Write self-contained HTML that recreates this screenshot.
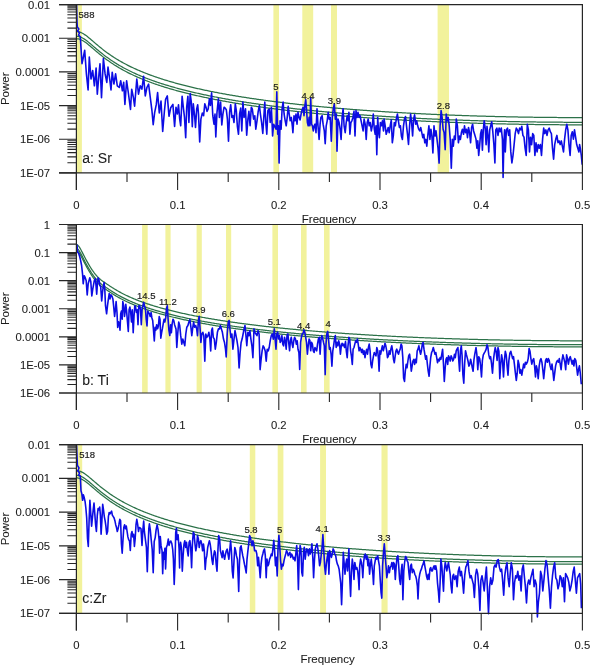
<!DOCTYPE html><html><head><meta charset="utf-8"><style>html,body{margin:0;padding:0;background:#fff;}svg{display:block;will-change:transform;}text{font-family:"Liberation Sans",sans-serif;fill:#1c1c1c;stroke:#1c1c1c;stroke-width:0.08px;}</style></head><body>
<svg width="590" height="665" viewBox="0 0 590 665">
<rect x="76.60" y="4.60" width="5.30" height="168.30" fill="#f2f29c"/>
<rect x="273.40" y="4.60" width="5.60" height="168.30" fill="#f2f29c"/>
<rect x="302.30" y="4.60" width="10.90" height="168.30" fill="#f2f29c"/>
<rect x="331.00" y="4.60" width="6.00" height="168.30" fill="#f2f29c"/>
<rect x="437.60" y="4.60" width="11.40" height="168.30" fill="#f2f29c"/>
<polyline points="76.4,31.50 77.4,31.55 78.4,31.70 79.4,31.95 80.4,32.29 81.4,32.72 82.4,33.22 83.4,33.79 84.4,34.43 85.4,35.12 86.4,35.85 87.4,36.62 88.4,37.42 89.4,38.24 90.4,39.08 91.4,39.93 92.4,40.79 93.4,41.65 94.4,42.50 95.4,43.36 96.4,44.21 97.4,45.06 98.4,45.89 99.4,46.72 100.4,47.53 101.4,48.34 102.4,49.13 103.4,49.91 104.4,50.68 105.4,51.43 106.4,52.17 107.4,52.90 108.4,53.62 109.4,54.32 110.4,55.01 111.4,55.69 112.4,56.36 113.4,57.02 114.4,57.66 115.4,58.29 116.4,58.91 117.4,59.52 118.4,60.12 119.4,60.71 120.4,61.29 121.4,61.86 122.4,62.42 123.4,62.97 124.4,63.51 125.4,64.05 126.4,64.57 127.4,65.08 128.4,65.59 129.4,66.09 130.4,66.58 131.4,67.07 132.4,67.54 133.4,68.01 134.4,68.47 135.4,68.93 136.4,69.38 137.4,69.82 138.4,70.26 139.4,70.69 140.4,71.11 141.4,71.53 142.4,71.94 143.4,72.35 144.4,72.75 145.4,73.14 146.4,73.53 147.4,73.92 148.4,74.30 149.4,74.68 150.4,75.05 151.4,75.41 152.4,75.77 153.4,76.13 154.4,76.48 155.4,76.83 156.4,77.18 157.4,77.52 158.4,77.85 159.4,78.18 160.4,78.51 161.4,78.84 162.4,79.16 163.4,79.48 164.4,79.79 165.4,80.10 166.4,80.41 167.4,80.71 168.4,81.01 169.4,81.31 170.4,81.60 171.4,81.89 172.4,82.18 173.4,82.47 174.4,82.75 175.4,83.03 176.4,83.30 177.4,83.58 178.4,83.85 179.4,84.11 180.4,84.38 181.4,84.64 182.4,84.90 183.4,85.16 184.4,85.42 185.4,85.67 186.4,85.92 187.4,86.17 188.4,86.41 189.4,86.66 190.4,86.90 191.4,87.14 192.4,87.37 193.4,87.61 194.4,87.84 195.4,88.07 196.4,88.30 197.4,88.53 198.4,88.75 199.4,88.97 200.4,89.19 201.4,89.41 202.4,89.63 203.4,89.84 204.4,90.06 205.4,90.27 206.4,90.48 207.4,90.69 208.4,90.89 209.4,91.10 210.4,91.30 211.4,91.50 212.4,91.70 213.4,91.90 214.4,92.09 215.4,92.29 216.4,92.48 217.4,92.67 218.4,92.86 219.4,93.05 220.4,93.24 221.4,93.43 222.4,93.61 223.4,93.79 224.4,93.98 225.4,94.16 226.4,94.33 227.4,94.51 228.4,94.69 229.4,94.86 230.4,95.04 231.4,95.21 232.4,95.38 233.4,95.55 234.4,95.72 235.4,95.89 236.4,96.05 237.4,96.22 238.4,96.38 239.4,96.54 240.4,96.70 241.4,96.86 242.4,97.02 243.4,97.18 244.4,97.34 245.4,97.49 246.4,97.65 247.4,97.80 248.4,97.95 249.4,98.10 250.4,98.26 251.4,98.40 252.4,98.55 253.4,98.70 254.4,98.85 255.4,98.99 256.4,99.14 257.4,99.28 258.4,99.42 259.4,99.56 260.4,99.70 261.4,99.84 262.4,99.98 263.4,100.12 264.4,100.25 265.4,100.39 266.4,100.53 267.4,100.66 268.4,100.79 269.4,100.92 270.4,101.06 271.4,101.19 272.4,101.32 273.4,101.44 274.4,101.57 275.4,101.70 276.4,101.83 277.4,101.95 278.4,102.08 279.4,102.20 280.4,102.32 281.4,102.45 282.4,102.57 283.4,102.69 284.4,102.81 285.4,102.93 286.4,103.05 287.4,103.16 288.4,103.28 289.4,103.40 290.4,103.51 291.4,103.63 292.4,103.74 293.4,103.85 294.4,103.97 295.4,104.08 296.4,104.19 297.4,104.30 298.4,104.41 299.4,104.52 300.4,104.63 301.4,104.73 302.4,104.84 303.4,104.95 304.4,105.05 305.4,105.16 306.4,105.26 307.4,105.37 308.4,105.47 309.4,105.57 310.4,105.67 311.4,105.78 312.4,105.88 313.4,105.98 314.4,106.07 315.4,106.17 316.4,106.27 317.4,106.37 318.4,106.47 319.4,106.56 320.4,106.66 321.4,106.75 322.4,106.85 323.4,106.94 324.4,107.04 325.4,107.13 326.4,107.22 327.4,107.31 328.4,107.40 329.4,107.49 330.4,107.58 331.4,107.67 332.4,107.76 333.4,107.85 334.4,107.94 335.4,108.03 336.4,108.11 337.4,108.20 338.4,108.28 339.4,108.37 340.4,108.45 341.4,108.54 342.4,108.62 343.4,108.70 344.4,108.79 345.4,108.87 346.4,108.95 347.4,109.03 348.4,109.11 349.4,109.19 350.4,109.27 351.4,109.35 352.4,109.43 353.4,109.51 354.4,109.58 355.4,109.66 356.4,109.74 357.4,109.81 358.4,109.89 359.4,109.96 360.4,110.04 361.4,110.11 362.4,110.19 363.4,110.26 364.4,110.33 365.4,110.41 366.4,110.48 367.4,110.55 368.4,110.62 369.4,110.69 370.4,110.76 371.4,110.83 372.4,110.90 373.4,110.97 374.4,111.04 375.4,111.10 376.4,111.17 377.4,111.24 378.4,111.31 379.4,111.37 380.4,111.44 381.4,111.50 382.4,111.57 383.4,111.63 384.4,111.70 385.4,111.76 386.4,111.82 387.4,111.89 388.4,111.95 389.4,112.01 390.4,112.07 391.4,112.13 392.4,112.19 393.4,112.25 394.4,112.31 395.4,112.37 396.4,112.43 397.4,112.49 398.4,112.55 399.4,112.61 400.4,112.66 401.4,112.72 402.4,112.78 403.4,112.83 404.4,112.89 405.4,112.95 406.4,113.00 407.4,113.06 408.4,113.11 409.4,113.16 410.4,113.22 411.4,113.27 412.4,113.32 413.4,113.38 414.4,113.43 415.4,113.48 416.4,113.53 417.4,113.58 418.4,113.63 419.4,113.68 420.4,113.73 421.4,113.78 422.4,113.83 423.4,113.88 424.4,113.93 425.4,113.98 426.4,114.03 427.4,114.07 428.4,114.12 429.4,114.17 430.4,114.21 431.4,114.26 432.4,114.30 433.4,114.35 434.4,114.39 435.4,114.44 436.4,114.48 437.4,114.53 438.4,114.57 439.4,114.61 440.4,114.66 441.4,114.70 442.4,114.74 443.4,114.78 444.4,114.82 445.4,114.87 446.4,114.91 447.4,114.95 448.4,114.99 449.4,115.03 450.4,115.07 451.4,115.11 452.4,115.14 453.4,115.18 454.4,115.22 455.4,115.26 456.4,115.30 457.4,115.33 458.4,115.37 459.4,115.41 460.4,115.44 461.4,115.48 462.4,115.51 463.4,115.55 464.4,115.58 465.4,115.62 466.4,115.65 467.4,115.69 468.4,115.72 469.4,115.75 470.4,115.79 471.4,115.82 472.4,115.85 473.4,115.88 474.4,115.92 475.4,115.95 476.4,115.98 477.4,116.01 478.4,116.04 479.4,116.07 480.4,116.10 481.4,116.13 482.4,116.16 483.4,116.19 484.4,116.22 485.4,116.24 486.4,116.27 487.4,116.30 488.4,116.33 489.4,116.35 490.4,116.38 491.4,116.41 492.4,116.43 493.4,116.46 494.4,116.48 495.4,116.51 496.4,116.53 497.4,116.56 498.4,116.58 499.4,116.61 500.4,116.63 501.4,116.65 502.4,116.68 503.4,116.70 504.4,116.72 505.4,116.74 506.4,116.77 507.4,116.79 508.4,116.81 509.4,116.83 510.4,116.85 511.4,116.87 512.4,116.89 513.4,116.91 514.4,116.93 515.4,116.95 516.4,116.97 517.4,116.99 518.4,117.01 519.4,117.02 520.4,117.04 521.4,117.06 522.4,117.08 523.4,117.09 524.4,117.11 525.4,117.13 526.4,117.14 527.4,117.16 528.4,117.17 529.4,117.19 530.4,117.20 531.4,117.22 532.4,117.23 533.4,117.25 534.4,117.26 535.4,117.27 536.4,117.29 537.4,117.30 538.4,117.31 539.4,117.33 540.4,117.34 541.4,117.35 542.4,117.36 543.4,117.37 544.4,117.38 545.4,117.39 546.4,117.40 547.4,117.41 548.4,117.42 549.4,117.43 550.4,117.44 551.4,117.45 552.4,117.46 553.4,117.47 554.4,117.48 555.4,117.48 556.4,117.49 557.4,117.50 558.4,117.50 559.4,117.51 560.4,117.52 561.4,117.52 562.4,117.53 563.4,117.53 564.4,117.54 565.4,117.55 566.4,117.55 567.4,117.55 568.4,117.56 569.4,117.56 570.4,117.57 571.4,117.57 572.4,117.57 573.4,117.57 574.4,117.58 575.4,117.58 576.4,117.58 577.4,117.58 578.4,117.58 579.4,117.58 580.4,117.59 581.4,117.59 582.4,117.59" fill="none" stroke="#2c7249" stroke-width="1.25"/>
<polyline points="76.4,36.21 77.4,36.26 78.4,36.41 79.4,36.66 80.4,37.00 81.4,37.43 82.4,37.93 83.4,38.51 84.4,39.14 85.4,39.83 86.4,40.56 87.4,41.33 88.4,42.13 89.4,42.95 90.4,43.79 91.4,44.64 92.4,45.50 93.4,46.36 94.4,47.22 95.4,48.07 96.4,48.92 97.4,49.77 98.4,50.60 99.4,51.43 100.4,52.25 101.4,53.05 102.4,53.84 103.4,54.62 104.4,55.39 105.4,56.14 106.4,56.89 107.4,57.62 108.4,58.33 109.4,59.04 110.4,59.73 111.4,60.41 112.4,61.07 113.4,61.73 114.4,62.37 115.4,63.00 116.4,63.63 117.4,64.24 118.4,64.84 119.4,65.42 120.4,66.00 121.4,66.57 122.4,67.13 123.4,67.68 124.4,68.23 125.4,68.76 126.4,69.28 127.4,69.80 128.4,70.30 129.4,70.80 130.4,71.29 131.4,71.78 132.4,72.26 133.4,72.72 134.4,73.19 135.4,73.64 136.4,74.09 137.4,74.53 138.4,74.97 139.4,75.40 140.4,75.82 141.4,76.24 142.4,76.65 143.4,77.06 144.4,77.46 145.4,77.86 146.4,78.25 147.4,78.63 148.4,79.01 149.4,79.39 150.4,79.76 151.4,80.12 152.4,80.49 153.4,80.84 154.4,81.20 155.4,81.54 156.4,81.89 157.4,82.23 158.4,82.57 159.4,82.90 160.4,83.23 161.4,83.55 162.4,83.87 163.4,84.19 164.4,84.50 165.4,84.81 166.4,85.12 167.4,85.42 168.4,85.72 169.4,86.02 170.4,86.31 171.4,86.61 172.4,86.89 173.4,87.18 174.4,87.46 175.4,87.74 176.4,88.01 177.4,88.29 178.4,88.56 179.4,88.83 180.4,89.09 181.4,89.35 182.4,89.61 183.4,89.87 184.4,90.13 185.4,90.38 186.4,90.63 187.4,90.88 188.4,91.12 189.4,91.37 190.4,91.61 191.4,91.85 192.4,92.09 193.4,92.32 194.4,92.55 195.4,92.78 196.4,93.01 197.4,93.24 198.4,93.46 199.4,93.68 200.4,93.91 201.4,94.12 202.4,94.34 203.4,94.56 204.4,94.77 205.4,94.98 206.4,95.19 207.4,95.40 208.4,95.60 209.4,95.81 210.4,96.01 211.4,96.21 212.4,96.41 213.4,96.61 214.4,96.81 215.4,97.00 216.4,97.20 217.4,97.39 218.4,97.58 219.4,97.77 220.4,97.95 221.4,98.14 222.4,98.32 223.4,98.51 224.4,98.69 225.4,98.87 226.4,99.05 227.4,99.22 228.4,99.40 229.4,99.58 230.4,99.75 231.4,99.92 232.4,100.09 233.4,100.26 234.4,100.43 235.4,100.60 236.4,100.76 237.4,100.93 238.4,101.09 239.4,101.25 240.4,101.42 241.4,101.58 242.4,101.74 243.4,101.89 244.4,102.05 245.4,102.21 246.4,102.36 247.4,102.51 248.4,102.67 249.4,102.82 250.4,102.97 251.4,103.12 252.4,103.27 253.4,103.41 254.4,103.56 255.4,103.70 256.4,103.85 257.4,103.99 258.4,104.13 259.4,104.27 260.4,104.42 261.4,104.55 262.4,104.69 263.4,104.83 264.4,104.97 265.4,105.10 266.4,105.24 267.4,105.37 268.4,105.50 269.4,105.64 270.4,105.77 271.4,105.90 272.4,106.03 273.4,106.16 274.4,106.29 275.4,106.41 276.4,106.54 277.4,106.66 278.4,106.79 279.4,106.91 280.4,107.04 281.4,107.16 282.4,107.28 283.4,107.40 284.4,107.52 285.4,107.64 286.4,107.76 287.4,107.88 288.4,107.99 289.4,108.11 290.4,108.22 291.4,108.34 292.4,108.45 293.4,108.57 294.4,108.68 295.4,108.79 296.4,108.90 297.4,109.01 298.4,109.12 299.4,109.23 300.4,109.34 301.4,109.45 302.4,109.55 303.4,109.66 304.4,109.77 305.4,109.87 306.4,109.98 307.4,110.08 308.4,110.18 309.4,110.28 310.4,110.39 311.4,110.49 312.4,110.59 313.4,110.69 314.4,110.79 315.4,110.89 316.4,110.98 317.4,111.08 318.4,111.18 319.4,111.27 320.4,111.37 321.4,111.47 322.4,111.56 323.4,111.65 324.4,111.75 325.4,111.84 326.4,111.93 327.4,112.02 328.4,112.12 329.4,112.21 330.4,112.30 331.4,112.39 332.4,112.47 333.4,112.56 334.4,112.65 335.4,112.74 336.4,112.82 337.4,112.91 338.4,113.00 339.4,113.08 340.4,113.17 341.4,113.25 342.4,113.33 343.4,113.42 344.4,113.50 345.4,113.58 346.4,113.66 347.4,113.74 348.4,113.82 349.4,113.90 350.4,113.98 351.4,114.06 352.4,114.14 353.4,114.22 354.4,114.30 355.4,114.37 356.4,114.45 357.4,114.53 358.4,114.60 359.4,114.68 360.4,114.75 361.4,114.83 362.4,114.90 363.4,114.97 364.4,115.05 365.4,115.12 366.4,115.19 367.4,115.26 368.4,115.33 369.4,115.40 370.4,115.47 371.4,115.54 372.4,115.61 373.4,115.68 374.4,115.75 375.4,115.82 376.4,115.88 377.4,115.95 378.4,116.02 379.4,116.08 380.4,116.15 381.4,116.21 382.4,116.28 383.4,116.34 384.4,116.41 385.4,116.47 386.4,116.53 387.4,116.60 388.4,116.66 389.4,116.72 390.4,116.78 391.4,116.84 392.4,116.91 393.4,116.97 394.4,117.03 395.4,117.08 396.4,117.14 397.4,117.20 398.4,117.26 399.4,117.32 400.4,117.38 401.4,117.43 402.4,117.49 403.4,117.55 404.4,117.60 405.4,117.66 406.4,117.71 407.4,117.77 408.4,117.82 409.4,117.88 410.4,117.93 411.4,117.98 412.4,118.04 413.4,118.09 414.4,118.14 415.4,118.19 416.4,118.24 417.4,118.30 418.4,118.35 419.4,118.40 420.4,118.45 421.4,118.50 422.4,118.54 423.4,118.59 424.4,118.64 425.4,118.69 426.4,118.74 427.4,118.79 428.4,118.83 429.4,118.88 430.4,118.93 431.4,118.97 432.4,119.02 433.4,119.06 434.4,119.11 435.4,119.15 436.4,119.20 437.4,119.24 438.4,119.28 439.4,119.33 440.4,119.37 441.4,119.41 442.4,119.45 443.4,119.50 444.4,119.54 445.4,119.58 446.4,119.62 447.4,119.66 448.4,119.70 449.4,119.74 450.4,119.78 451.4,119.82 452.4,119.86 453.4,119.90 454.4,119.93 455.4,119.97 456.4,120.01 457.4,120.05 458.4,120.08 459.4,120.12 460.4,120.16 461.4,120.19 462.4,120.23 463.4,120.26 464.4,120.30 465.4,120.33 466.4,120.37 467.4,120.40 468.4,120.43 469.4,120.47 470.4,120.50 471.4,120.53 472.4,120.56 473.4,120.60 474.4,120.63 475.4,120.66 476.4,120.69 477.4,120.72 478.4,120.75 479.4,120.78 480.4,120.81 481.4,120.84 482.4,120.87 483.4,120.90 484.4,120.93 485.4,120.96 486.4,120.98 487.4,121.01 488.4,121.04 489.4,121.07 490.4,121.09 491.4,121.12 492.4,121.15 493.4,121.17 494.4,121.20 495.4,121.22 496.4,121.25 497.4,121.27 498.4,121.30 499.4,121.32 500.4,121.34 501.4,121.37 502.4,121.39 503.4,121.41 504.4,121.43 505.4,121.46 506.4,121.48 507.4,121.50 508.4,121.52 509.4,121.54 510.4,121.56 511.4,121.58 512.4,121.60 513.4,121.62 514.4,121.64 515.4,121.66 516.4,121.68 517.4,121.70 518.4,121.72 519.4,121.74 520.4,121.75 521.4,121.77 522.4,121.79 523.4,121.81 524.4,121.82 525.4,121.84 526.4,121.86 527.4,121.87 528.4,121.89 529.4,121.90 530.4,121.92 531.4,121.93 532.4,121.95 533.4,121.96 534.4,121.97 535.4,121.99 536.4,122.00 537.4,122.01 538.4,122.03 539.4,122.04 540.4,122.05 541.4,122.06 542.4,122.07 543.4,122.08 544.4,122.09 545.4,122.11 546.4,122.12 547.4,122.13 548.4,122.14 549.4,122.14 550.4,122.15 551.4,122.16 552.4,122.17 553.4,122.18 554.4,122.19 555.4,122.20 556.4,122.20 557.4,122.21 558.4,122.22 559.4,122.22 560.4,122.23 561.4,122.24 562.4,122.24 563.4,122.25 564.4,122.25 565.4,122.26 566.4,122.26 567.4,122.27 568.4,122.27 569.4,122.27 570.4,122.28 571.4,122.28 572.4,122.28 573.4,122.29 574.4,122.29 575.4,122.29 576.4,122.29 577.4,122.29 578.4,122.30 579.4,122.30 580.4,122.30 581.4,122.30 582.4,122.30" fill="none" stroke="#2c7249" stroke-width="1.25"/>
<polyline points="76.4,38.74 77.4,38.79 78.4,38.94 79.4,39.19 80.4,39.53 81.4,39.95 82.4,40.46 83.4,41.03 84.4,41.67 85.4,42.36 86.4,43.09 87.4,43.86 88.4,44.66 89.4,45.48 90.4,46.32 91.4,47.17 92.4,48.02 93.4,48.88 94.4,49.74 95.4,50.60 96.4,51.45 97.4,52.29 98.4,53.13 99.4,53.96 100.4,54.77 101.4,55.57 102.4,56.37 103.4,57.15 104.4,57.91 105.4,58.67 106.4,59.41 107.4,60.14 108.4,60.86 109.4,61.56 110.4,62.25 111.4,62.93 112.4,63.60 113.4,64.25 114.4,64.90 115.4,65.53 116.4,66.15 117.4,66.76 118.4,67.36 119.4,67.95 120.4,68.53 121.4,69.10 122.4,69.66 123.4,70.21 124.4,70.75 125.4,71.28 126.4,71.81 127.4,72.32 128.4,72.83 129.4,73.33 130.4,73.82 131.4,74.30 132.4,74.78 133.4,75.25 134.4,75.71 135.4,76.17 136.4,76.62 137.4,77.06 138.4,77.49 139.4,77.92 140.4,78.35 141.4,78.77 142.4,79.18 143.4,79.58 144.4,79.99 145.4,80.38 146.4,80.77 147.4,81.16 148.4,81.54 149.4,81.91 150.4,82.28 151.4,82.65 152.4,83.01 153.4,83.37 154.4,83.72 155.4,84.07 156.4,84.41 157.4,84.75 158.4,85.09 159.4,85.42 160.4,85.75 161.4,86.07 162.4,86.40 163.4,86.71 164.4,87.03 165.4,87.34 166.4,87.64 167.4,87.95 168.4,88.25 169.4,88.54 170.4,88.84 171.4,89.13 172.4,89.42 173.4,89.70 174.4,89.98 175.4,90.26 176.4,90.54 177.4,90.81 178.4,91.08 179.4,91.35 180.4,91.62 181.4,91.88 182.4,92.14 183.4,92.40 184.4,92.65 185.4,92.90 186.4,93.16 187.4,93.40 188.4,93.65 189.4,93.89 190.4,94.13 191.4,94.37 192.4,94.61 193.4,94.84 194.4,95.08 195.4,95.31 196.4,95.54 197.4,95.76 198.4,95.99 199.4,96.21 200.4,96.43 201.4,96.65 202.4,96.87 203.4,97.08 204.4,97.29 205.4,97.51 206.4,97.72 207.4,97.92 208.4,98.13 209.4,98.33 210.4,98.54 211.4,98.74 212.4,98.94 213.4,99.14 214.4,99.33 215.4,99.53 216.4,99.72 217.4,99.91 218.4,100.10 219.4,100.29 220.4,100.48 221.4,100.66 222.4,100.85 223.4,101.03 224.4,101.21 225.4,101.39 226.4,101.57 227.4,101.75 228.4,101.93 229.4,102.10 230.4,102.27 231.4,102.45 232.4,102.62 233.4,102.79 234.4,102.96 235.4,103.12 236.4,103.29 237.4,103.45 238.4,103.62 239.4,103.78 240.4,103.94 241.4,104.10 242.4,104.26 243.4,104.42 244.4,104.57 245.4,104.73 246.4,104.88 247.4,105.04 248.4,105.19 249.4,105.34 250.4,105.49 251.4,105.64 252.4,105.79 253.4,105.94 254.4,106.08 255.4,106.23 256.4,106.37 257.4,106.52 258.4,106.66 259.4,106.80 260.4,106.94 261.4,107.08 262.4,107.22 263.4,107.36 264.4,107.49 265.4,107.63 266.4,107.76 267.4,107.90 268.4,108.03 269.4,108.16 270.4,108.29 271.4,108.42 272.4,108.55 273.4,108.68 274.4,108.81 275.4,108.94 276.4,109.06 277.4,109.19 278.4,109.31 279.4,109.44 280.4,109.56 281.4,109.68 282.4,109.80 283.4,109.92 284.4,110.04 285.4,110.16 286.4,110.28 287.4,110.40 288.4,110.52 289.4,110.63 290.4,110.75 291.4,110.86 292.4,110.98 293.4,111.09 294.4,111.20 295.4,111.31 296.4,111.43 297.4,111.54 298.4,111.65 299.4,111.75 300.4,111.86 301.4,111.97 302.4,112.08 303.4,112.18 304.4,112.29 305.4,112.40 306.4,112.50 307.4,112.60 308.4,112.71 309.4,112.81 310.4,112.91 311.4,113.01 312.4,113.11 313.4,113.21 314.4,113.31 315.4,113.41 316.4,113.51 317.4,113.61 318.4,113.70 319.4,113.80 320.4,113.90 321.4,113.99 322.4,114.08 323.4,114.18 324.4,114.27 325.4,114.36 326.4,114.46 327.4,114.55 328.4,114.64 329.4,114.73 330.4,114.82 331.4,114.91 332.4,115.00 333.4,115.09 334.4,115.17 335.4,115.26 336.4,115.35 337.4,115.43 338.4,115.52 339.4,115.61 340.4,115.69 341.4,115.77 342.4,115.86 343.4,115.94 344.4,116.02 345.4,116.11 346.4,116.19 347.4,116.27 348.4,116.35 349.4,116.43 350.4,116.51 351.4,116.59 352.4,116.67 353.4,116.74 354.4,116.82 355.4,116.90 356.4,116.97 357.4,117.05 358.4,117.13 359.4,117.20 360.4,117.28 361.4,117.35 362.4,117.42 363.4,117.50 364.4,117.57 365.4,117.64 366.4,117.71 367.4,117.79 368.4,117.86 369.4,117.93 370.4,118.00 371.4,118.07 372.4,118.14 373.4,118.20 374.4,118.27 375.4,118.34 376.4,118.41 377.4,118.48 378.4,118.54 379.4,118.61 380.4,118.67 381.4,118.74 382.4,118.80 383.4,118.87 384.4,118.93 385.4,119.00 386.4,119.06 387.4,119.12 388.4,119.18 389.4,119.25 390.4,119.31 391.4,119.37 392.4,119.43 393.4,119.49 394.4,119.55 395.4,119.61 396.4,119.67 397.4,119.73 398.4,119.79 399.4,119.84 400.4,119.90 401.4,119.96 402.4,120.01 403.4,120.07 404.4,120.13 405.4,120.18 406.4,120.24 407.4,120.29 408.4,120.35 409.4,120.40 410.4,120.45 411.4,120.51 412.4,120.56 413.4,120.61 414.4,120.67 415.4,120.72 416.4,120.77 417.4,120.82 418.4,120.87 419.4,120.92 420.4,120.97 421.4,121.02 422.4,121.07 423.4,121.12 424.4,121.17 425.4,121.21 426.4,121.26 427.4,121.31 428.4,121.36 429.4,121.40 430.4,121.45 431.4,121.50 432.4,121.54 433.4,121.59 434.4,121.63 435.4,121.68 436.4,121.72 437.4,121.76 438.4,121.81 439.4,121.85 440.4,121.89 441.4,121.94 442.4,121.98 443.4,122.02 444.4,122.06 445.4,122.10 446.4,122.14 447.4,122.18 448.4,122.22 449.4,122.26 450.4,122.30 451.4,122.34 452.4,122.38 453.4,122.42 454.4,122.46 455.4,122.50 456.4,122.53 457.4,122.57 458.4,122.61 459.4,122.64 460.4,122.68 461.4,122.72 462.4,122.75 463.4,122.79 464.4,122.82 465.4,122.86 466.4,122.89 467.4,122.92 468.4,122.96 469.4,122.99 470.4,123.02 471.4,123.06 472.4,123.09 473.4,123.12 474.4,123.15 475.4,123.18 476.4,123.22 477.4,123.25 478.4,123.28 479.4,123.31 480.4,123.34 481.4,123.37 482.4,123.39 483.4,123.42 484.4,123.45 485.4,123.48 486.4,123.51 487.4,123.54 488.4,123.56 489.4,123.59 490.4,123.62 491.4,123.64 492.4,123.67 493.4,123.70 494.4,123.72 495.4,123.75 496.4,123.77 497.4,123.80 498.4,123.82 499.4,123.84 500.4,123.87 501.4,123.89 502.4,123.91 503.4,123.94 504.4,123.96 505.4,123.98 506.4,124.00 507.4,124.03 508.4,124.05 509.4,124.07 510.4,124.09 511.4,124.11 512.4,124.13 513.4,124.15 514.4,124.17 515.4,124.19 516.4,124.21 517.4,124.23 518.4,124.24 519.4,124.26 520.4,124.28 521.4,124.30 522.4,124.31 523.4,124.33 524.4,124.35 525.4,124.36 526.4,124.38 527.4,124.40 528.4,124.41 529.4,124.43 530.4,124.44 531.4,124.46 532.4,124.47 533.4,124.48 534.4,124.50 535.4,124.51 536.4,124.52 537.4,124.54 538.4,124.55 539.4,124.56 540.4,124.57 541.4,124.59 542.4,124.60 543.4,124.61 544.4,124.62 545.4,124.63 546.4,124.64 547.4,124.65 548.4,124.66 549.4,124.67 550.4,124.68 551.4,124.69 552.4,124.70 553.4,124.70 554.4,124.71 555.4,124.72 556.4,124.73 557.4,124.73 558.4,124.74 559.4,124.75 560.4,124.75 561.4,124.76 562.4,124.77 563.4,124.77 564.4,124.78 565.4,124.78 566.4,124.79 567.4,124.79 568.4,124.80 569.4,124.80 570.4,124.80 571.4,124.81 572.4,124.81 573.4,124.81 574.4,124.81 575.4,124.82 576.4,124.82 577.4,124.82 578.4,124.82 579.4,124.82 580.4,124.82 581.4,124.82 582.4,124.82" fill="none" stroke="#2c7249" stroke-width="1.25"/>
<polyline points="76.6,5.0 76.8,14.0 77.0,22.0 77.3,27.0 78.8,29.0 77.6,31.0 79.5,33.0 78.5,35.0 80.2,36.5 80.5,40.0 82.0,63.7 83.4,57.0 84.7,50.2 86.4,73.9 88.1,90.0 89.3,57.0 91.0,79.0 92.7,70.5 94.4,85.8 96.1,68.0 97.3,94.2 99.0,73.9 100.0,63.7 101.5,97.6 103.4,58.6 105.1,73.9 106.8,82.4 108.0,67.1 109.7,79.0 111.0,90.0 112.2,72.2 113.9,84.0 115.6,73.9 117.3,85.8 119.3,87.5 120.7,80.7 122.4,90.8 123.7,82.4 124.9,104.4 126.6,80.7 128.3,92.5 130.5,109.5 131.7,89.2 133.4,97.6 134.6,106.1 136.8,79.0 138.5,94.2 140.2,85.8 141.9,89.2 143.6,76.4 145.3,95.9 146.9,87.5 148.6,84.1 150.3,97.6 152.0,111.2 153.2,124.7 154.6,112.9 156.3,104.4 157.6,92.5 159.3,112.9 161.0,101.0 162.7,131.5 164.4,111.2 165.6,99.3 167.3,95.9 169.0,116.3 170.7,107.8 172.9,104.4 174.6,126.4 176.0,107.2 177.4,114.0 178.5,104.7 179.7,119.1 180.7,125.8 182.1,96.2 183.5,108.9 184.5,117.4 185.7,137.7 186.7,107.2 187.9,96.2 188.9,122.5 190.2,93.6 191.3,102.1 192.3,126.7 193.3,103.8 194.6,115.7 195.5,127.5 196.7,108.9 197.7,104.7 198.5,114.0 199.7,141.9 200.9,119.1 202.3,113.1 203.6,115.7 204.8,103.8 206.0,107.2 207.0,111.4 208.2,108.9 209.4,98.7 210.4,105.5 211.6,92.8 212.8,115.7 214.0,124.2 215.0,114.0 215.8,136.9 217.0,112.3 218.4,98.7 219.4,117.4 220.6,102.1 221.8,125.0 222.9,114.0 224.1,107.2 225.2,108.1 226.3,109.7 227.4,119.1 228.5,141.1 229.6,112.3 230.7,104.7 231.9,117.4 232.9,115.7 234.0,122.5 235.3,103.8 236.3,110.6 237.4,126.7 238.5,134.3 239.6,114.0 240.7,108.1 241.8,130.9 242.9,102.1 244.1,117.4 245.5,108.9 246.7,135.2 247.9,119.1 248.9,111.4 250.1,125.8 251.3,107.2 252.3,108.9 253.6,119.1 254.8,115.7 255.8,129.2 257.0,120.8 258.2,111.4 259.4,105.5 260.4,114.0 261.6,122.5 262.8,133.5 263.8,117.4 264.8,102.1 265.8,122.5 266.8,134.3 267.9,110.6 269.2,108.9 270.2,122.5 271.4,107.2 272.6,136.0 273.6,124.2 276.0,129.2 276.8,91.9 277.7,134.3 278.4,125.8 279.1,163.1 280.1,120.8 281.1,129.2 282.1,108.9 283.1,102.1 284.1,114.0 285.2,120.8 286.2,125.8 287.2,117.4 288.2,106.4 289.2,114.0 290.2,120.8 291.3,117.4 292.3,125.8 292.9,132.6 294.0,115.7 295.0,120.8 296.0,114.0 297.0,124.2 298.0,112.3 299.1,117.4 300.1,119.9 301.1,114.0 301.9,110.6 303.1,107.2 304.0,115.7 304.8,106.4 305.7,99.6 306.5,108.9 307.4,122.5 308.2,125.8 309.1,117.4 309.9,125.8 310.7,97.9 311.6,124.2 312.4,125.8 313.3,130.9 314.1,125.8 315.0,124.2 316.0,132.6 317.0,108.9 318.0,125.8 319.1,139.4 320.1,124.2 320.9,117.4 322.1,115.7 323.1,124.2 324.3,130.9 325.2,143.6 326.2,125.8 327.2,120.8 328.2,112.3 329.2,119.1 330.2,117.4 331.3,141.1 332.3,117.4 333.3,108.9 334.3,103.8 335.3,119.1 336.3,114.0 337.0,151.3 338.0,119.1 339.1,122.5 340.1,129.2 341.1,139.4 342.1,117.4 343.1,108.9 344.1,125.8 345.2,132.6 346.2,122.5 347.2,115.7 348.2,120.8 348.9,112.3 349.9,134.3 350.9,122.5 351.9,120.8 352.9,117.4 354.0,111.4 355.0,136.0 356.0,110.6 357.0,117.4 358.0,112.3 359.1,117.4 360.1,115.7 361.1,120.8 362.1,125.8 363.1,130.9 364.1,119.1 365.2,124.2 366.2,139.4 367.2,122.5 368.2,119.1 369.2,125.8 370.2,122.5 371.3,130.9 372.3,125.8 373.3,114.0 374.3,129.2 375.2,134.3 376.0,125.8 376.8,154.7 377.7,117.4 378.5,130.9 379.4,137.7 380.4,122.5 381.4,125.8 382.4,120.8 383.5,130.9 384.1,119.1 385.2,125.8 386.2,134.3 387.2,130.9 388.2,127.5 389.2,132.6 390.2,125.8 391.3,119.9 392.3,142.8 393.3,136.0 394.3,122.5 395.3,125.8 396.3,119.1 397.4,114.0 398.4,120.8 399.4,127.5 400.4,125.8 401.4,136.0 402.4,139.4 403.5,125.8 404.5,119.1 405.5,116.5 406.5,125.8 407.5,134.3 408.5,144.5 409.6,125.8 410.6,114.0 411.6,122.5 412.6,136.0 413.6,119.1 414.6,114.8 415.7,124.2 416.7,120.8 417.7,125.8 418.7,129.2 419.7,130.9 420.7,127.5 421.8,132.6 422.8,137.7 423.8,134.3 424.8,142.8 425.8,139.4 426.8,146.2 427.9,134.3 428.9,125.8 429.9,139.4 430.9,129.2 431.9,136.0 432.9,153.0 434.0,125.8 435.0,136.0 436.0,130.9 437.0,139.4 438.0,147.9 439.1,163.1 440.1,125.8 441.1,110.6 442.1,117.4 443.1,129.2 444.1,132.6 445.2,149.6 446.2,114.0 447.2,120.8 448.2,117.4 449.2,125.8 450.2,139.4 451.3,168.2 452.3,139.4 453.3,146.2 454.3,136.0 455.3,139.4 456.3,119.1 457.4,125.8 458.4,142.8 459.4,136.0 460.4,139.4 461.4,132.6 462.4,129.2 463.5,134.3 464.5,125.8 465.5,132.6 466.5,129.2 467.5,137.7 468.5,127.5 469.6,132.6 470.6,142.8 471.6,127.5 472.6,124.2 473.6,130.9 474.6,134.3 476.0,139.1 476.9,148.2 477.8,140.9 478.7,155.5 479.7,144.6 480.6,133.6 481.5,129.9 482.4,150.1 483.3,129.9 484.2,120.8 485.2,128.1 486.1,144.6 487.0,126.3 487.9,135.4 488.8,151.9 489.7,129.9 490.6,126.3 491.7,121.7 492.8,131.7 493.9,144.6 494.9,162.9 495.8,129.9 496.9,128.1 498.0,135.4 499.1,128.1 500.2,131.7 501.3,128.1 502.4,139.1 503.1,177.5 503.8,144.6 504.6,129.9 505.3,151.9 506.4,129.9 507.5,128.1 508.6,135.4 509.7,129.9 510.8,151.9 511.9,162.9 513.0,155.5 514.1,144.6 515.2,133.6 516.3,128.1 517.4,129.9 518.5,133.6 519.6,128.1 520.7,129.9 521.8,126.3 522.9,135.4 524.0,137.2 525.1,148.2 526.2,155.5 527.3,124.4 528.4,129.9 529.5,151.9 530.5,137.2 531.6,144.6 532.7,133.6 533.8,135.4 534.9,155.5 536.0,142.7 537.1,151.9 538.2,144.6 539.3,148.2 540.4,144.6 541.5,155.5 542.6,139.1 543.7,128.1 544.8,133.6 545.9,129.9 547.0,135.4 548.1,129.9 549.2,128.1 550.3,131.7 551.4,133.6 552.5,148.2 553.6,159.2 554.7,144.6 555.8,139.1 556.9,135.4 558.0,142.7 559.1,140.9 560.2,144.6 561.3,140.9 562.4,146.4 563.5,151.9 564.6,139.1 565.7,129.9 566.8,124.4 567.9,129.9 569.0,144.6 570.1,155.5 571.2,135.4 572.3,131.7 573.4,139.1 574.5,129.9 575.6,137.2 576.7,144.6 577.8,148.2 578.9,151.9 579.6,144.6 580.3,148.2 581.3,155.5 582.2,164.7" fill="none" stroke="#0c0ce4" stroke-width="1.6" stroke-linejoin="round"/>
<path d="M59.0,4.60H582.4V172.90H59.0M76.40,4.60V189.90" fill="none" stroke="#262626" stroke-width="1.2"/>
<path d="M59.0,172.90H76.4M67.4,162.77H76.4M67.4,156.84H76.4M67.4,152.63H76.4M67.4,149.37H76.4M67.4,146.71H76.4M67.4,144.45H76.4M67.4,142.50H76.4M67.4,140.78H76.4M59.0,139.24H76.4M67.4,129.11H76.4M67.4,123.18H76.4M67.4,118.97H76.4M67.4,115.71H76.4M67.4,113.05H76.4M67.4,110.79H76.4M67.4,108.84H76.4M67.4,107.12H76.4M59.0,105.58H76.4M67.4,95.45H76.4M67.4,89.52H76.4M67.4,85.31H76.4M67.4,82.05H76.4M67.4,79.39H76.4M67.4,77.13H76.4M67.4,75.18H76.4M67.4,73.46H76.4M59.0,71.92H76.4M67.4,61.79H76.4M67.4,55.86H76.4M67.4,51.65H76.4M67.4,48.39H76.4M67.4,45.73H76.4M67.4,43.47H76.4M67.4,41.52H76.4M67.4,39.80H76.4M59.0,38.26H76.4M67.4,28.13H76.4M67.4,22.20H76.4M67.4,17.99H76.4M67.4,14.73H76.4M67.4,12.07H76.4M67.4,9.81H76.4M67.4,7.86H76.4M67.4,6.14H76.4M59.0,4.60H76.4M76.40,172.90V189.90M127.00,172.90V181.90M177.60,172.90V189.90M228.20,172.90V181.90M278.80,172.90V189.90M329.40,172.90V181.90M380.00,172.90V189.90M430.60,172.90V181.90M481.20,172.90V189.90M531.80,172.90V181.90M582.40,172.90V189.90" fill="none" stroke="#262626" stroke-width="1.1"/>
<text x="50.1" y="8.60" font-size="11.3" text-anchor="end">0.01</text>
<text x="50.1" y="42.26" font-size="11.3" text-anchor="end">0.001</text>
<text x="50.1" y="75.92" font-size="11.3" text-anchor="end">0.0001</text>
<text x="50.1" y="109.58" font-size="11.3" text-anchor="end">1E-05</text>
<text x="50.1" y="143.24" font-size="11.3" text-anchor="end">1E-06</text>
<text x="50.1" y="176.90" font-size="11.3" text-anchor="end">1E-07</text>
<text x="76.40" y="208.90" font-size="11.3" text-anchor="middle">0</text>
<text x="177.60" y="208.90" font-size="11.3" text-anchor="middle">0.1</text>
<text x="278.80" y="208.90" font-size="11.3" text-anchor="middle">0.2</text>
<text x="380.00" y="208.90" font-size="11.3" text-anchor="middle">0.3</text>
<text x="481.20" y="208.90" font-size="11.3" text-anchor="middle">0.4</text>
<text x="582.40" y="208.90" font-size="11.3" text-anchor="middle">0.5</text>
<text x="329.00" y="222.80" font-size="11.5" text-anchor="middle">Frequency</text>
<text transform="translate(9.2,88.75) rotate(-90)" font-size="11.5" text-anchor="middle">Power</text>
<text x="82.3" y="162.90" font-size="14">a: Sr</text>
<text x="86.50" y="17.80" font-size="9.5" text-anchor="middle" style="stroke-width:0.18px">588</text>
<text x="275.90" y="90.10" font-size="9.5" text-anchor="middle" style="stroke-width:0.18px">5</text>
<text x="308.00" y="98.70" font-size="9.5" text-anchor="middle" style="stroke-width:0.18px">4.4</text>
<text x="334.40" y="104.10" font-size="9.5" text-anchor="middle" style="stroke-width:0.18px">3.9</text>
<text x="443.40" y="108.90" font-size="9.5" text-anchor="middle" style="stroke-width:0.18px">2.8</text>
<rect x="142.10" y="224.50" width="5.60" height="168.50" fill="#f2f29c"/>
<rect x="165.40" y="224.50" width="5.20" height="168.50" fill="#f2f29c"/>
<rect x="196.60" y="224.50" width="5.20" height="168.50" fill="#f2f29c"/>
<rect x="226.00" y="224.50" width="5.20" height="168.50" fill="#f2f29c"/>
<rect x="272.40" y="224.50" width="5.60" height="168.50" fill="#f2f29c"/>
<rect x="301.00" y="224.50" width="5.60" height="168.50" fill="#f2f29c"/>
<rect x="324.00" y="224.50" width="5.60" height="168.50" fill="#f2f29c"/>
<polyline points="76.4,244.60 77.4,244.91 78.4,245.80 79.4,247.15 80.4,248.82 81.4,250.68 82.4,252.63 83.4,254.61 84.4,256.57 85.4,258.49 86.4,260.35 87.4,262.16 88.4,263.91 89.4,265.59 90.4,267.22 91.4,268.79 92.4,270.29 93.4,271.72 94.4,273.07 95.4,274.34 96.4,275.52 97.4,276.61 98.4,277.62 99.4,278.55 100.4,279.40 101.4,280.20 102.4,280.96 103.4,281.68 104.4,282.38 105.4,283.06 106.4,283.74 107.4,284.41 108.4,285.08 109.4,285.74 110.4,286.40 111.4,287.05 112.4,287.69 113.4,288.33 114.4,288.95 115.4,289.56 116.4,290.15 117.4,290.74 118.4,291.31 119.4,291.87 120.4,292.41 121.4,292.95 122.4,293.47 123.4,293.98 124.4,294.48 125.4,294.97 126.4,295.45 127.4,295.93 128.4,296.39 129.4,296.84 130.4,297.29 131.4,297.73 132.4,298.16 133.4,298.58 134.4,298.99 135.4,299.40 136.4,299.80 137.4,300.20 138.4,300.58 139.4,300.96 140.4,301.34 141.4,301.71 142.4,302.07 143.4,302.43 144.4,302.78 145.4,303.13 146.4,303.48 147.4,303.81 148.4,304.15 149.4,304.47 150.4,304.80 151.4,305.12 152.4,305.43 153.4,305.74 154.4,306.05 155.4,306.35 156.4,306.65 157.4,306.95 158.4,307.24 159.4,307.52 160.4,307.81 161.4,308.09 162.4,308.37 163.4,308.64 164.4,308.91 165.4,309.18 166.4,309.44 167.4,309.70 168.4,309.96 169.4,310.22 170.4,310.47 171.4,310.72 172.4,310.96 173.4,311.21 174.4,311.45 175.4,311.69 176.4,311.93 177.4,312.16 178.4,312.39 179.4,312.62 180.4,312.85 181.4,313.07 182.4,313.29 183.4,313.51 184.4,313.73 185.4,313.95 186.4,314.16 187.4,314.37 188.4,314.58 189.4,314.79 190.4,314.99 191.4,315.20 192.4,315.40 193.4,315.60 194.4,315.79 195.4,315.99 196.4,316.18 197.4,316.38 198.4,316.57 199.4,316.76 200.4,316.94 201.4,317.13 202.4,317.31 203.4,317.50 204.4,317.68 205.4,317.86 206.4,318.03 207.4,318.21 208.4,318.38 209.4,318.56 210.4,318.73 211.4,318.90 212.4,319.07 213.4,319.24 214.4,319.40 215.4,319.57 216.4,319.73 217.4,319.89 218.4,320.05 219.4,320.21 220.4,320.37 221.4,320.53 222.4,320.68 223.4,320.84 224.4,320.99 225.4,321.14 226.4,321.29 227.4,321.44 228.4,321.59 229.4,321.74 230.4,321.89 231.4,322.03 232.4,322.18 233.4,322.32 234.4,322.46 235.4,322.60 236.4,322.74 237.4,322.88 238.4,323.02 239.4,323.16 240.4,323.29 241.4,323.43 242.4,323.56 243.4,323.70 244.4,323.83 245.4,323.96 246.4,324.09 247.4,324.22 248.4,324.35 249.4,324.47 250.4,324.60 251.4,324.73 252.4,324.85 253.4,324.97 254.4,325.10 255.4,325.22 256.4,325.34 257.4,325.46 258.4,325.58 259.4,325.70 260.4,325.82 261.4,325.94 262.4,326.05 263.4,326.17 264.4,326.28 265.4,326.40 266.4,326.51 267.4,326.62 268.4,326.73 269.4,326.85 270.4,326.96 271.4,327.07 272.4,327.17 273.4,327.28 274.4,327.39 275.4,327.50 276.4,327.60 277.4,327.71 278.4,327.81 279.4,327.92 280.4,328.02 281.4,328.12 282.4,328.23 283.4,328.33 284.4,328.43 285.4,328.53 286.4,328.63 287.4,328.73 288.4,328.82 289.4,328.92 290.4,329.02 291.4,329.11 292.4,329.21 293.4,329.31 294.4,329.40 295.4,329.49 296.4,329.59 297.4,329.68 298.4,329.77 299.4,329.86 300.4,329.95 301.4,330.05 302.4,330.13 303.4,330.22 304.4,330.31 305.4,330.40 306.4,330.49 307.4,330.58 308.4,330.66 309.4,330.75 310.4,330.83 311.4,330.92 312.4,331.00 313.4,331.09 314.4,331.17 315.4,331.25 316.4,331.33 317.4,331.42 318.4,331.50 319.4,331.58 320.4,331.66 321.4,331.74 322.4,331.82 323.4,331.90 324.4,331.98 325.4,332.05 326.4,332.13 327.4,332.21 328.4,332.28 329.4,332.36 330.4,332.43 331.4,332.51 332.4,332.58 333.4,332.66 334.4,332.73 335.4,332.81 336.4,332.88 337.4,332.95 338.4,333.02 339.4,333.09 340.4,333.16 341.4,333.23 342.4,333.30 343.4,333.37 344.4,333.44 345.4,333.51 346.4,333.58 347.4,333.65 348.4,333.72 349.4,333.78 350.4,333.85 351.4,333.92 352.4,333.98 353.4,334.05 354.4,334.11 355.4,334.18 356.4,334.24 357.4,334.30 358.4,334.37 359.4,334.43 360.4,334.49 361.4,334.55 362.4,334.62 363.4,334.68 364.4,334.74 365.4,334.80 366.4,334.86 367.4,334.92 368.4,334.98 369.4,335.04 370.4,335.10 371.4,335.16 372.4,335.21 373.4,335.27 374.4,335.33 375.4,335.38 376.4,335.44 377.4,335.50 378.4,335.55 379.4,335.61 380.4,335.66 381.4,335.72 382.4,335.77 383.4,335.83 384.4,335.88 385.4,335.93 386.4,335.99 387.4,336.04 388.4,336.09 389.4,336.14 390.4,336.19 391.4,336.25 392.4,336.30 393.4,336.35 394.4,336.40 395.4,336.45 396.4,336.50 397.4,336.55 398.4,336.59 399.4,336.64 400.4,336.69 401.4,336.74 402.4,336.79 403.4,336.83 404.4,336.88 405.4,336.93 406.4,336.97 407.4,337.02 408.4,337.06 409.4,337.11 410.4,337.15 411.4,337.20 412.4,337.24 413.4,337.29 414.4,337.33 415.4,337.37 416.4,337.42 417.4,337.46 418.4,337.50 419.4,337.54 420.4,337.59 421.4,337.63 422.4,337.67 423.4,337.71 424.4,337.75 425.4,337.79 426.4,337.83 427.4,337.87 428.4,337.91 429.4,337.95 430.4,337.99 431.4,338.03 432.4,338.06 433.4,338.10 434.4,338.14 435.4,338.18 436.4,338.21 437.4,338.25 438.4,338.29 439.4,338.32 440.4,338.36 441.4,338.39 442.4,338.43 443.4,338.46 444.4,338.50 445.4,338.53 446.4,338.57 447.4,338.60 448.4,338.64 449.4,338.67 450.4,338.70 451.4,338.73 452.4,338.77 453.4,338.80 454.4,338.83 455.4,338.86 456.4,338.89 457.4,338.92 458.4,338.96 459.4,338.99 460.4,339.02 461.4,339.05 462.4,339.08 463.4,339.11 464.4,339.13 465.4,339.16 466.4,339.19 467.4,339.22 468.4,339.25 469.4,339.28 470.4,339.30 471.4,339.33 472.4,339.36 473.4,339.39 474.4,339.41 475.4,339.44 476.4,339.46 477.4,339.49 478.4,339.52 479.4,339.54 480.4,339.57 481.4,339.59 482.4,339.61 483.4,339.64 484.4,339.66 485.4,339.69 486.4,339.71 487.4,339.73 488.4,339.76 489.4,339.78 490.4,339.80 491.4,339.82 492.4,339.84 493.4,339.87 494.4,339.89 495.4,339.91 496.4,339.93 497.4,339.95 498.4,339.97 499.4,339.99 500.4,340.01 501.4,340.03 502.4,340.05 503.4,340.07 504.4,340.09 505.4,340.11 506.4,340.12 507.4,340.14 508.4,340.16 509.4,340.18 510.4,340.19 511.4,340.21 512.4,340.23 513.4,340.25 514.4,340.26 515.4,340.28 516.4,340.29 517.4,340.31 518.4,340.32 519.4,340.34 520.4,340.35 521.4,340.37 522.4,340.38 523.4,340.40 524.4,340.41 525.4,340.43 526.4,340.44 527.4,340.45 528.4,340.46 529.4,340.48 530.4,340.49 531.4,340.50 532.4,340.51 533.4,340.53 534.4,340.54 535.4,340.55 536.4,340.56 537.4,340.57 538.4,340.58 539.4,340.59 540.4,340.60 541.4,340.61 542.4,340.62 543.4,340.63 544.4,340.64 545.4,340.65 546.4,340.66 547.4,340.66 548.4,340.67 549.4,340.68 550.4,340.69 551.4,340.70 552.4,340.70 553.4,340.71 554.4,340.72 555.4,340.72 556.4,340.73 557.4,340.74 558.4,340.74 559.4,340.75 560.4,340.75 561.4,340.76 562.4,340.76 563.4,340.77 564.4,340.77 565.4,340.77 566.4,340.78 567.4,340.78 568.4,340.79 569.4,340.79 570.4,340.79 571.4,340.79 572.4,340.80 573.4,340.80 574.4,340.80 575.4,340.80 576.4,340.80 577.4,340.81 578.4,340.81 579.4,340.81 580.4,340.81 581.4,340.81 582.4,340.81" fill="none" stroke="#2c7249" stroke-width="1.25"/>
<polyline points="76.4,248.53 77.4,248.84 78.4,249.73 79.4,251.08 80.4,252.75 81.4,254.61 82.4,256.57 83.4,258.54 84.4,260.50 85.4,262.42 86.4,264.28 87.4,266.09 88.4,267.84 89.4,269.53 90.4,271.15 91.4,272.72 92.4,274.22 93.4,275.65 94.4,277.01 95.4,278.27 96.4,279.45 97.4,280.55 98.4,281.55 99.4,282.48 100.4,283.34 101.4,284.13 102.4,284.89 103.4,285.61 104.4,286.31 105.4,286.99 106.4,287.67 107.4,288.34 108.4,289.01 109.4,289.67 110.4,290.33 111.4,290.98 112.4,291.63 113.4,292.26 114.4,292.88 115.4,293.49 116.4,294.09 117.4,294.67 118.4,295.24 119.4,295.80 120.4,296.34 121.4,296.88 122.4,297.40 123.4,297.91 124.4,298.41 125.4,298.90 126.4,299.39 127.4,299.86 128.4,300.32 129.4,300.77 130.4,301.22 131.4,301.66 132.4,302.09 133.4,302.51 134.4,302.92 135.4,303.33 136.4,303.73 137.4,304.13 138.4,304.51 139.4,304.90 140.4,305.27 141.4,305.64 142.4,306.01 143.4,306.36 144.4,306.72 145.4,307.06 146.4,307.41 147.4,307.74 148.4,308.08 149.4,308.41 150.4,308.73 151.4,309.05 152.4,309.36 153.4,309.67 154.4,309.98 155.4,310.28 156.4,310.58 157.4,310.88 158.4,311.17 159.4,311.46 160.4,311.74 161.4,312.02 162.4,312.30 163.4,312.57 164.4,312.84 165.4,313.11 166.4,313.37 167.4,313.63 168.4,313.89 169.4,314.15 170.4,314.40 171.4,314.65 172.4,314.90 173.4,315.14 174.4,315.38 175.4,315.62 176.4,315.86 177.4,316.09 178.4,316.32 179.4,316.55 180.4,316.78 181.4,317.00 182.4,317.22 183.4,317.44 184.4,317.66 185.4,317.88 186.4,318.09 187.4,318.30 188.4,318.51 189.4,318.72 190.4,318.92 191.4,319.13 192.4,319.33 193.4,319.53 194.4,319.73 195.4,319.92 196.4,320.12 197.4,320.31 198.4,320.50 199.4,320.69 200.4,320.88 201.4,321.06 202.4,321.25 203.4,321.43 204.4,321.61 205.4,321.79 206.4,321.97 207.4,322.14 208.4,322.32 209.4,322.49 210.4,322.66 211.4,322.83 212.4,323.00 213.4,323.17 214.4,323.33 215.4,323.50 216.4,323.66 217.4,323.82 218.4,323.98 219.4,324.14 220.4,324.30 221.4,324.46 222.4,324.62 223.4,324.77 224.4,324.92 225.4,325.08 226.4,325.23 227.4,325.38 228.4,325.53 229.4,325.67 230.4,325.82 231.4,325.96 232.4,326.11 233.4,326.25 234.4,326.39 235.4,326.53 236.4,326.67 237.4,326.81 238.4,326.95 239.4,327.09 240.4,327.22 241.4,327.36 242.4,327.49 243.4,327.63 244.4,327.76 245.4,327.89 246.4,328.02 247.4,328.15 248.4,328.28 249.4,328.41 250.4,328.53 251.4,328.66 252.4,328.78 253.4,328.91 254.4,329.03 255.4,329.15 256.4,329.27 257.4,329.39 258.4,329.51 259.4,329.63 260.4,329.75 261.4,329.87 262.4,329.98 263.4,330.10 264.4,330.21 265.4,330.33 266.4,330.44 267.4,330.55 268.4,330.67 269.4,330.78 270.4,330.89 271.4,331.00 272.4,331.11 273.4,331.21 274.4,331.32 275.4,331.43 276.4,331.54 277.4,331.64 278.4,331.75 279.4,331.85 280.4,331.95 281.4,332.06 282.4,332.16 283.4,332.26 284.4,332.36 285.4,332.46 286.4,332.56 287.4,332.66 288.4,332.76 289.4,332.85 290.4,332.95 291.4,333.05 292.4,333.14 293.4,333.24 294.4,333.33 295.4,333.43 296.4,333.52 297.4,333.61 298.4,333.70 299.4,333.80 300.4,333.89 301.4,333.98 302.4,334.07 303.4,334.16 304.4,334.24 305.4,334.33 306.4,334.42 307.4,334.51 308.4,334.59 309.4,334.68 310.4,334.77 311.4,334.85 312.4,334.93 313.4,335.02 314.4,335.10 315.4,335.18 316.4,335.27 317.4,335.35 318.4,335.43 319.4,335.51 320.4,335.59 321.4,335.67 322.4,335.75 323.4,335.83 324.4,335.91 325.4,335.98 326.4,336.06 327.4,336.14 328.4,336.22 329.4,336.29 330.4,336.37 331.4,336.44 332.4,336.52 333.4,336.59 334.4,336.66 335.4,336.74 336.4,336.81 337.4,336.88 338.4,336.95 339.4,337.02 340.4,337.10 341.4,337.17 342.4,337.24 343.4,337.31 344.4,337.37 345.4,337.44 346.4,337.51 347.4,337.58 348.4,337.65 349.4,337.71 350.4,337.78 351.4,337.85 352.4,337.91 353.4,337.98 354.4,338.04 355.4,338.11 356.4,338.17 357.4,338.24 358.4,338.30 359.4,338.36 360.4,338.42 361.4,338.49 362.4,338.55 363.4,338.61 364.4,338.67 365.4,338.73 366.4,338.79 367.4,338.85 368.4,338.91 369.4,338.97 370.4,339.03 371.4,339.09 372.4,339.14 373.4,339.20 374.4,339.26 375.4,339.32 376.4,339.37 377.4,339.43 378.4,339.48 379.4,339.54 380.4,339.60 381.4,339.65 382.4,339.70 383.4,339.76 384.4,339.81 385.4,339.86 386.4,339.92 387.4,339.97 388.4,340.02 389.4,340.07 390.4,340.13 391.4,340.18 392.4,340.23 393.4,340.28 394.4,340.33 395.4,340.38 396.4,340.43 397.4,340.48 398.4,340.53 399.4,340.57 400.4,340.62 401.4,340.67 402.4,340.72 403.4,340.76 404.4,340.81 405.4,340.86 406.4,340.90 407.4,340.95 408.4,341.00 409.4,341.04 410.4,341.09 411.4,341.13 412.4,341.17 413.4,341.22 414.4,341.26 415.4,341.31 416.4,341.35 417.4,341.39 418.4,341.43 419.4,341.48 420.4,341.52 421.4,341.56 422.4,341.60 423.4,341.64 424.4,341.68 425.4,341.72 426.4,341.76 427.4,341.80 428.4,341.84 429.4,341.88 430.4,341.92 431.4,341.96 432.4,342.00 433.4,342.03 434.4,342.07 435.4,342.11 436.4,342.15 437.4,342.18 438.4,342.22 439.4,342.25 440.4,342.29 441.4,342.33 442.4,342.36 443.4,342.40 444.4,342.43 445.4,342.47 446.4,342.50 447.4,342.53 448.4,342.57 449.4,342.60 450.4,342.63 451.4,342.67 452.4,342.70 453.4,342.73 454.4,342.76 455.4,342.79 456.4,342.83 457.4,342.86 458.4,342.89 459.4,342.92 460.4,342.95 461.4,342.98 462.4,343.01 463.4,343.04 464.4,343.07 465.4,343.10 466.4,343.12 467.4,343.15 468.4,343.18 469.4,343.21 470.4,343.24 471.4,343.26 472.4,343.29 473.4,343.32 474.4,343.34 475.4,343.37 476.4,343.40 477.4,343.42 478.4,343.45 479.4,343.47 480.4,343.50 481.4,343.52 482.4,343.55 483.4,343.57 484.4,343.59 485.4,343.62 486.4,343.64 487.4,343.66 488.4,343.69 489.4,343.71 490.4,343.73 491.4,343.75 492.4,343.78 493.4,343.80 494.4,343.82 495.4,343.84 496.4,343.86 497.4,343.88 498.4,343.90 499.4,343.92 500.4,343.94 501.4,343.96 502.4,343.98 503.4,344.00 504.4,344.02 505.4,344.04 506.4,344.06 507.4,344.07 508.4,344.09 509.4,344.11 510.4,344.13 511.4,344.14 512.4,344.16 513.4,344.18 514.4,344.19 515.4,344.21 516.4,344.23 517.4,344.24 518.4,344.26 519.4,344.27 520.4,344.29 521.4,344.30 522.4,344.31 523.4,344.33 524.4,344.34 525.4,344.36 526.4,344.37 527.4,344.38 528.4,344.40 529.4,344.41 530.4,344.42 531.4,344.43 532.4,344.45 533.4,344.46 534.4,344.47 535.4,344.48 536.4,344.49 537.4,344.50 538.4,344.51 539.4,344.52 540.4,344.53 541.4,344.54 542.4,344.55 543.4,344.56 544.4,344.57 545.4,344.58 546.4,344.59 547.4,344.60 548.4,344.60 549.4,344.61 550.4,344.62 551.4,344.63 552.4,344.63 553.4,344.64 554.4,344.65 555.4,344.65 556.4,344.66 557.4,344.67 558.4,344.67 559.4,344.68 560.4,344.68 561.4,344.69 562.4,344.69 563.4,344.70 564.4,344.70 565.4,344.71 566.4,344.71 567.4,344.71 568.4,344.72 569.4,344.72 570.4,344.72 571.4,344.73 572.4,344.73 573.4,344.73 574.4,344.73 575.4,344.73 576.4,344.74 577.4,344.74 578.4,344.74 579.4,344.74 580.4,344.74 581.4,344.74 582.4,344.74" fill="none" stroke="#2c7249" stroke-width="1.25"/>
<polyline points="76.4,250.64 77.4,250.95 78.4,251.84 79.4,253.18 80.4,254.85 81.4,256.72 82.4,258.67 83.4,260.65 84.4,262.61 85.4,264.53 86.4,266.39 87.4,268.20 88.4,269.94 89.4,271.63 90.4,273.26 91.4,274.83 92.4,276.33 93.4,277.76 94.4,279.11 95.4,280.38 96.4,281.56 97.4,282.65 98.4,283.66 99.4,284.58 100.4,285.44 101.4,286.24 102.4,286.99 103.4,287.72 104.4,288.41 105.4,289.10 106.4,289.77 107.4,290.45 108.4,291.11 109.4,291.78 110.4,292.44 111.4,293.09 112.4,293.73 113.4,294.37 114.4,294.99 115.4,295.60 116.4,296.19 117.4,296.78 118.4,297.35 119.4,297.90 120.4,298.45 121.4,298.98 122.4,299.51 123.4,300.02 124.4,300.52 125.4,301.01 126.4,301.49 127.4,301.96 128.4,302.43 129.4,302.88 130.4,303.33 131.4,303.76 132.4,304.19 133.4,304.62 134.4,305.03 135.4,305.44 136.4,305.84 137.4,306.23 138.4,306.62 139.4,307.00 140.4,307.38 141.4,307.75 142.4,308.11 143.4,308.47 144.4,308.82 145.4,309.17 146.4,309.51 147.4,309.85 148.4,310.18 149.4,310.51 150.4,310.84 151.4,311.16 152.4,311.47 153.4,311.78 154.4,312.09 155.4,312.39 156.4,312.69 157.4,312.98 158.4,313.27 159.4,313.56 160.4,313.85 161.4,314.13 162.4,314.40 163.4,314.68 164.4,314.95 165.4,315.22 166.4,315.48 167.4,315.74 168.4,316.00 169.4,316.25 170.4,316.51 171.4,316.76 172.4,317.00 173.4,317.25 174.4,317.49 175.4,317.73 176.4,317.96 177.4,318.20 178.4,318.43 179.4,318.66 180.4,318.88 181.4,319.11 182.4,319.33 183.4,319.55 184.4,319.77 185.4,319.98 186.4,320.20 187.4,320.41 188.4,320.62 189.4,320.83 190.4,321.03 191.4,321.23 192.4,321.44 193.4,321.63 194.4,321.83 195.4,322.03 196.4,322.22 197.4,322.42 198.4,322.61 199.4,322.79 200.4,322.98 201.4,323.17 202.4,323.35 203.4,323.53 204.4,323.71 205.4,323.89 206.4,324.07 207.4,324.25 208.4,324.42 209.4,324.60 210.4,324.77 211.4,324.94 212.4,325.11 213.4,325.27 214.4,325.44 215.4,325.60 216.4,325.77 217.4,325.93 218.4,326.09 219.4,326.25 220.4,326.41 221.4,326.57 222.4,326.72 223.4,326.88 224.4,327.03 225.4,327.18 226.4,327.33 227.4,327.48 228.4,327.63 229.4,327.78 230.4,327.93 231.4,328.07 232.4,328.21 233.4,328.36 234.4,328.50 235.4,328.64 236.4,328.78 237.4,328.92 238.4,329.06 239.4,329.20 240.4,329.33 241.4,329.47 242.4,329.60 243.4,329.73 244.4,329.87 245.4,330.00 246.4,330.13 247.4,330.26 248.4,330.38 249.4,330.51 250.4,330.64 251.4,330.76 252.4,330.89 253.4,331.01 254.4,331.14 255.4,331.26 256.4,331.38 257.4,331.50 258.4,331.62 259.4,331.74 260.4,331.86 261.4,331.97 262.4,332.09 263.4,332.21 264.4,332.32 265.4,332.43 266.4,332.55 267.4,332.66 268.4,332.77 269.4,332.88 270.4,332.99 271.4,333.10 272.4,333.21 273.4,333.32 274.4,333.43 275.4,333.54 276.4,333.64 277.4,333.75 278.4,333.85 279.4,333.96 280.4,334.06 281.4,334.16 282.4,334.26 283.4,334.36 284.4,334.47 285.4,334.57 286.4,334.67 287.4,334.76 288.4,334.86 289.4,334.96 290.4,335.06 291.4,335.15 292.4,335.25 293.4,335.34 294.4,335.44 295.4,335.53 296.4,335.63 297.4,335.72 298.4,335.81 299.4,335.90 300.4,335.99 301.4,336.08 302.4,336.17 303.4,336.26 304.4,336.35 305.4,336.44 306.4,336.53 307.4,336.61 308.4,336.70 309.4,336.79 310.4,336.87 311.4,336.96 312.4,337.04 313.4,337.12 314.4,337.21 315.4,337.29 316.4,337.37 317.4,337.45 318.4,337.54 319.4,337.62 320.4,337.70 321.4,337.78 322.4,337.86 323.4,337.93 324.4,338.01 325.4,338.09 326.4,338.17 327.4,338.25 328.4,338.32 329.4,338.40 330.4,338.47 331.4,338.55 332.4,338.62 333.4,338.70 334.4,338.77 335.4,338.84 336.4,338.92 337.4,338.99 338.4,339.06 339.4,339.13 340.4,339.20 341.4,339.27 342.4,339.34 343.4,339.41 344.4,339.48 345.4,339.55 346.4,339.62 347.4,339.69 348.4,339.75 349.4,339.82 350.4,339.89 351.4,339.95 352.4,340.02 353.4,340.08 354.4,340.15 355.4,340.21 356.4,340.28 357.4,340.34 358.4,340.41 359.4,340.47 360.4,340.53 361.4,340.59 362.4,340.65 363.4,340.72 364.4,340.78 365.4,340.84 366.4,340.90 367.4,340.96 368.4,341.02 369.4,341.08 370.4,341.13 371.4,341.19 372.4,341.25 373.4,341.31 374.4,341.37 375.4,341.42 376.4,341.48 377.4,341.54 378.4,341.59 379.4,341.65 380.4,341.70 381.4,341.76 382.4,341.81 383.4,341.86 384.4,341.92 385.4,341.97 386.4,342.02 387.4,342.08 388.4,342.13 389.4,342.18 390.4,342.23 391.4,342.28 392.4,342.33 393.4,342.38 394.4,342.43 395.4,342.48 396.4,342.53 397.4,342.58 398.4,342.63 399.4,342.68 400.4,342.73 401.4,342.78 402.4,342.82 403.4,342.87 404.4,342.92 405.4,342.96 406.4,343.01 407.4,343.06 408.4,343.10 409.4,343.15 410.4,343.19 411.4,343.24 412.4,343.28 413.4,343.32 414.4,343.37 415.4,343.41 416.4,343.45 417.4,343.50 418.4,343.54 419.4,343.58 420.4,343.62 421.4,343.67 422.4,343.71 423.4,343.75 424.4,343.79 425.4,343.83 426.4,343.87 427.4,343.91 428.4,343.95 429.4,343.99 430.4,344.03 431.4,344.06 432.4,344.10 433.4,344.14 434.4,344.18 435.4,344.21 436.4,344.25 437.4,344.29 438.4,344.32 439.4,344.36 440.4,344.40 441.4,344.43 442.4,344.47 443.4,344.50 444.4,344.54 445.4,344.57 446.4,344.61 447.4,344.64 448.4,344.67 449.4,344.71 450.4,344.74 451.4,344.77 452.4,344.80 453.4,344.84 454.4,344.87 455.4,344.90 456.4,344.93 457.4,344.96 458.4,344.99 459.4,345.02 460.4,345.05 461.4,345.08 462.4,345.11 463.4,345.14 464.4,345.17 465.4,345.20 466.4,345.23 467.4,345.26 468.4,345.29 469.4,345.31 470.4,345.34 471.4,345.37 472.4,345.40 473.4,345.42 474.4,345.45 475.4,345.48 476.4,345.50 477.4,345.53 478.4,345.55 479.4,345.58 480.4,345.60 481.4,345.63 482.4,345.65 483.4,345.68 484.4,345.70 485.4,345.72 486.4,345.75 487.4,345.77 488.4,345.79 489.4,345.82 490.4,345.84 491.4,345.86 492.4,345.88 493.4,345.90 494.4,345.93 495.4,345.95 496.4,345.97 497.4,345.99 498.4,346.01 499.4,346.03 500.4,346.05 501.4,346.07 502.4,346.09 503.4,346.11 504.4,346.12 505.4,346.14 506.4,346.16 507.4,346.18 508.4,346.20 509.4,346.22 510.4,346.23 511.4,346.25 512.4,346.27 513.4,346.28 514.4,346.30 515.4,346.32 516.4,346.33 517.4,346.35 518.4,346.36 519.4,346.38 520.4,346.39 521.4,346.41 522.4,346.42 523.4,346.44 524.4,346.45 525.4,346.46 526.4,346.48 527.4,346.49 528.4,346.50 529.4,346.52 530.4,346.53 531.4,346.54 532.4,346.55 533.4,346.56 534.4,346.57 535.4,346.59 536.4,346.60 537.4,346.61 538.4,346.62 539.4,346.63 540.4,346.64 541.4,346.65 542.4,346.66 543.4,346.67 544.4,346.68 545.4,346.69 546.4,346.69 547.4,346.70 548.4,346.71 549.4,346.72 550.4,346.73 551.4,346.73 552.4,346.74 553.4,346.75 554.4,346.75 555.4,346.76 556.4,346.77 557.4,346.77 558.4,346.78 559.4,346.78 560.4,346.79 561.4,346.79 562.4,346.80 563.4,346.80 564.4,346.81 565.4,346.81 566.4,346.82 567.4,346.82 568.4,346.82 569.4,346.83 570.4,346.83 571.4,346.83 572.4,346.83 573.4,346.84 574.4,346.84 575.4,346.84 576.4,346.84 577.4,346.84 578.4,346.84 579.4,346.85 580.4,346.85 581.4,346.85 582.4,346.85" fill="none" stroke="#2c7249" stroke-width="1.25"/>
<polyline points="76.6,244.8 77.0,245.2 77.6,252.3 78.6,253.3 79.6,256.3 80.6,260.4 81.6,265.5 82.6,274.6 83.2,283.8 84.2,275.7 85.2,277.7 86.2,280.7 87.2,295.0 88.2,283.8 89.8,277.7 90.8,281.8 91.8,296.0 92.8,288.9 94.3,280.7 95.4,278.7 96.0,285.3 96.7,294.2 97.4,284.0 98.0,277.9 99.0,279.9 99.8,285.3 100.7,286.7 101.7,300.9 102.5,292.1 103.5,285.3 104.1,282.6 104.8,289.4 105.5,305.7 106.6,313.8 107.5,305.7 108.2,300.3 109.2,293.5 110.0,298.9 110.9,294.8 112.0,296.2 112.9,298.9 113.6,305.7 114.6,316.5 115.4,309.7 116.1,301.6 117.0,312.5 117.7,327.4 118.6,321.9 119.3,323.3 120.0,330.1 120.7,313.8 121.4,311.1 122.2,319.2 122.8,301.6 123.7,305.7 124.5,316.5 125.2,311.1 125.8,304.3 126.6,311.1 127.5,321.9 128.3,331.4 129.1,309.7 129.9,307.0 130.7,312.5 131.5,321.9 132.3,309.7 133.2,332.8 134.0,316.5 134.8,305.7 135.6,307.0 136.4,312.5 137.2,309.7 138.0,324.7 138.8,305.7 139.7,305.7 140.5,309.7 141.3,324.7 142.1,309.7 142.9,305.7 143.7,302.3 144.5,305.7 145.4,308.4 146.2,319.2 147.0,326.0 147.8,311.1 148.6,312.5 149.4,313.8 150.2,316.5 151.1,312.5 151.9,317.9 152.7,320.6 153.5,330.1 154.3,340.9 155.1,327.4 155.9,330.1 156.7,324.7 157.6,328.7 158.4,326.0 159.2,316.5 160.0,319.2 160.8,338.2 161.6,332.8 162.4,328.7 163.3,323.3 164.1,319.2 164.9,321.9 165.7,317.9 166.5,308.4 167.3,305.7 168.1,319.2 168.9,330.1 169.8,335.5 170.6,324.7 171.4,332.8 172.2,323.3 173.0,319.2 173.8,320.6 174.6,324.7 176.0,328.9 176.8,347.5 177.7,334.0 178.7,322.1 179.7,325.5 180.7,335.7 181.8,344.2 182.8,339.1 183.8,342.5 184.8,345.8 185.8,334.0 186.8,327.2 187.9,325.5 188.9,322.1 189.9,319.6 190.9,327.2 191.8,335.7 192.6,328.9 193.6,322.1 194.6,327.2 195.7,325.5 196.7,328.9 197.5,335.7 198.4,320.4 199.2,316.2 200.1,328.9 200.9,342.5 201.8,334.0 202.8,332.3 203.8,335.7 204.8,361.1 205.8,334.0 206.8,337.4 207.9,335.7 208.9,332.3 209.9,339.1 210.7,350.9 211.6,330.6 212.4,328.1 213.3,337.4 214.3,339.1 215.3,349.2 216.3,342.5 217.4,332.3 218.4,328.9 219.4,328.9 220.4,325.5 221.4,328.9 222.4,332.3 223.5,339.1 224.5,342.5 225.5,349.2 226.2,356.9 227.2,334.0 228.2,322.1 229.1,320.4 229.9,328.9 230.9,337.4 231.9,334.0 232.9,349.2 234.0,339.1 235.0,330.6 236.0,335.7 237.0,340.8 238.0,347.5 239.1,367.9 240.1,352.6 241.1,342.5 242.1,339.1 243.1,334.0 244.1,328.9 245.0,325.5 245.8,334.0 246.8,345.8 247.9,332.3 248.9,335.7 249.9,330.6 250.9,339.1 251.9,345.8 252.9,357.7 254.0,328.9 255.0,332.3 256.0,334.0 257.0,335.7 258.0,330.6 259.1,334.0 260.1,369.6 261.1,359.4 262.1,350.9 263.1,345.8 264.1,347.5 265.2,350.9 266.2,361.1 267.2,349.2 268.2,350.9 269.2,347.5 270.2,340.8 271.3,335.7 272.3,334.0 273.3,339.1 274.3,328.9 276.0,349.2 276.8,333.9 277.7,332.2 278.5,339.0 279.4,335.6 280.2,342.4 281.1,340.7 281.9,335.6 282.8,344.1 283.6,345.8 284.5,337.3 285.3,340.7 286.2,349.2 287.0,335.6 287.9,333.9 288.7,342.4 289.6,350.8 290.4,340.7 291.3,337.3 292.1,344.1 292.9,347.5 293.8,340.7 294.6,337.3 295.5,339.0 296.3,344.1 297.2,340.7 298.0,349.2 298.9,352.5 299.7,369.5 300.6,342.4 301.4,337.3 302.3,333.9 303.1,333.1 304.0,329.7 304.8,332.2 305.7,337.3 306.5,342.4 307.4,354.2 308.2,345.8 309.1,339.0 309.9,340.7 310.7,350.8 311.6,342.4 312.4,344.1 313.3,350.8 314.1,352.5 315.0,347.5 315.8,349.2 316.7,350.8 317.5,344.1 318.4,339.0 319.2,337.3 320.1,354.2 320.9,340.7 321.8,335.6 322.6,338.1 323.5,342.4 324.3,345.8 325.2,374.6 326.0,344.1 326.8,333.9 327.7,331.4 328.5,339.0 329.4,349.2 330.2,347.5 331.1,354.2 331.9,366.1 332.8,350.8 333.6,345.8 334.5,339.0 335.3,335.6 336.2,347.5 337.0,342.4 337.9,345.8 338.7,340.7 339.6,344.1 340.4,354.2 341.3,345.8 342.1,343.2 342.9,345.8 343.8,344.1 344.6,347.5 345.5,341.5 346.3,350.8 347.2,357.6 348.0,345.8 348.9,337.3 349.7,339.0 350.6,350.8 351.4,355.9 352.3,364.4 353.1,349.2 354.0,347.5 354.8,344.1 355.7,340.7 356.5,342.4 357.4,339.0 358.2,344.1 359.1,350.8 359.9,347.5 360.7,349.2 361.6,352.5 362.4,349.2 363.3,354.2 364.1,350.8 365.0,357.6 365.8,352.5 366.7,349.2 367.5,354.2 368.4,347.5 369.2,344.1 370.1,350.8 370.9,364.4 371.8,367.8 372.6,361.0 373.5,355.9 374.3,352.5 376.0,355.9 376.8,347.5 377.7,350.8 378.5,359.3 379.1,371.2 379.9,350.8 380.7,354.2 381.6,349.2 382.4,345.8 383.3,350.8 384.1,347.5 385.0,343.2 385.8,345.8 386.7,350.8 387.5,357.6 388.4,355.9 389.2,350.8 390.1,354.2 390.9,349.2 391.8,345.8 392.6,350.8 393.5,359.3 394.3,362.7 395.2,355.9 396.0,350.8 396.8,349.2 397.7,352.5 398.5,354.2 399.4,350.8 400.2,349.2 401.1,344.1 401.9,345.8 402.8,357.6 403.6,378.0 404.5,381.4 405.3,371.2 406.2,364.4 407.0,367.8 407.9,361.0 408.7,355.9 409.6,354.2 410.4,361.0 411.3,371.2 412.1,366.1 412.9,361.0 413.8,359.3 414.6,364.4 415.5,359.3 416.3,362.7 417.2,350.8 418.0,349.2 418.9,345.8 419.7,350.8 420.6,354.2 421.4,350.8 422.3,344.1 423.1,342.4 424.0,349.2 424.8,354.2 425.7,359.3 426.5,355.9 427.4,364.4 428.2,371.2 429.1,376.3 429.9,366.1 430.7,357.6 431.6,352.5 432.4,350.8 433.3,347.5 434.1,350.8 435.0,354.2 435.8,352.5 436.7,357.6 437.5,362.7 438.4,359.3 439.2,361.0 440.1,357.6 440.9,359.3 441.8,354.2 442.6,349.2 443.5,364.4 444.3,381.4 445.2,367.8 446.0,359.3 446.8,357.6 447.7,364.4 448.5,355.9 449.4,357.6 450.2,361.0 451.1,355.9 451.9,357.6 452.8,361.0 453.6,359.3 454.5,354.2 455.3,357.6 456.2,350.8 457.0,349.2 457.9,347.5 458.7,359.3 459.6,371.2 460.4,350.8 461.3,345.8 462.1,355.9 462.9,374.6 463.8,383.1 464.6,364.4 465.5,350.8 466.3,354.2 467.2,357.6 468.0,361.0 468.9,366.1 469.7,364.4 470.6,359.3 471.4,362.7 472.3,367.8 473.1,371.2 474.0,359.3 474.8,354.2 476.0,347.6 476.9,354.9 477.8,369.6 478.7,356.7 479.7,358.6 480.6,365.9 481.5,376.9 482.4,360.4 483.3,354.9 484.2,353.1 485.2,351.3 486.1,349.4 487.0,344.8 487.9,347.6 488.8,354.9 489.7,358.6 490.6,356.7 491.6,364.1 492.5,373.2 493.4,360.4 494.3,353.1 495.2,347.6 496.1,351.3 497.1,360.4 498.0,347.6 498.9,351.3 499.8,378.7 500.7,364.1 501.6,354.9 502.5,360.4 503.5,376.9 504.4,360.4 505.3,351.3 506.2,354.9 507.1,365.9 508.0,375.1 508.9,360.4 509.9,353.1 510.8,351.3 511.7,354.9 512.6,358.6 513.5,356.7 514.4,364.1 515.4,373.2 516.3,380.5 517.2,373.2 518.1,360.4 519.0,364.1 519.9,373.2 520.8,369.6 521.8,375.1 522.7,369.6 523.6,364.1 524.5,367.7 525.4,362.2 526.3,364.1 527.3,362.2 528.2,358.6 529.1,348.5 530.0,351.3 530.9,358.6 531.8,364.1 532.7,360.4 533.7,358.6 534.6,365.9 535.5,376.9 536.4,365.9 537.3,369.6 538.2,378.7 539.2,365.9 540.1,360.4 541.0,358.6 541.9,362.2 542.8,369.6 543.7,378.7 544.6,369.6 545.6,360.4 546.5,358.6 547.4,362.2 548.3,358.6 549.2,360.4 550.1,365.9 551.1,369.6 552.0,364.1 552.9,371.4 553.8,380.5 554.7,373.2 555.6,365.9 556.5,362.2 557.5,360.4 558.4,362.2 559.3,358.6 560.2,364.1 561.1,369.6 562.0,360.4 562.9,354.9 563.9,358.6 564.8,362.2 565.7,369.6 566.6,354.9 567.5,358.6 568.4,364.1 569.4,358.6 570.3,356.7 571.2,360.4 572.1,364.1 573.0,360.4 573.9,365.9 574.8,358.6 575.8,360.4 576.7,367.7 577.6,375.1 578.5,369.6 579.4,365.9 580.3,373.2 581.3,384.2" fill="none" stroke="#0c0ce4" stroke-width="1.6" stroke-linejoin="round"/>
<path d="M59.0,224.50H582.4V393.00H59.0M76.40,224.50V410.00" fill="none" stroke="#262626" stroke-width="1.2"/>
<path d="M59.0,393.00H76.4M67.4,384.55H76.4M67.4,379.60H76.4M67.4,376.09H76.4M67.4,373.37H76.4M67.4,371.15H76.4M67.4,369.27H76.4M67.4,367.64H76.4M67.4,366.20H76.4M59.0,364.92H76.4M67.4,356.46H76.4M67.4,351.52H76.4M67.4,348.01H76.4M67.4,345.29H76.4M67.4,343.06H76.4M67.4,341.18H76.4M67.4,339.55H76.4M67.4,338.12H76.4M59.0,336.83H76.4M67.4,328.38H76.4M67.4,323.43H76.4M67.4,319.93H76.4M67.4,317.20H76.4M67.4,314.98H76.4M67.4,313.10H76.4M67.4,311.47H76.4M67.4,310.04H76.4M59.0,308.75H76.4M67.4,300.30H76.4M67.4,295.35H76.4M67.4,291.84H76.4M67.4,289.12H76.4M67.4,286.90H76.4M67.4,285.02H76.4M67.4,283.39H76.4M67.4,281.95H76.4M59.0,280.67H76.4M67.4,272.21H76.4M67.4,267.27H76.4M67.4,263.76H76.4M67.4,261.04H76.4M67.4,258.81H76.4M67.4,256.93H76.4M67.4,255.30H76.4M67.4,253.87H76.4M59.0,252.58H76.4M67.4,244.13H76.4M67.4,239.18H76.4M67.4,235.68H76.4M67.4,232.95H76.4M67.4,230.73H76.4M67.4,228.85H76.4M67.4,227.22H76.4M67.4,225.79H76.4M59.0,224.50H76.4M76.40,393.00V410.00M127.00,393.00V402.00M177.60,393.00V410.00M228.20,393.00V402.00M278.80,393.00V410.00M329.40,393.00V402.00M380.00,393.00V410.00M430.60,393.00V402.00M481.20,393.00V410.00M531.80,393.00V402.00M582.40,393.00V410.00" fill="none" stroke="#262626" stroke-width="1.1"/>
<text x="50.1" y="228.50" font-size="11.3" text-anchor="end">1</text>
<text x="50.1" y="256.58" font-size="11.3" text-anchor="end">0.1</text>
<text x="50.1" y="284.67" font-size="11.3" text-anchor="end">0.01</text>
<text x="50.1" y="312.75" font-size="11.3" text-anchor="end">0.001</text>
<text x="50.1" y="340.83" font-size="11.3" text-anchor="end">0.0001</text>
<text x="50.1" y="368.92" font-size="11.3" text-anchor="end">1E-05</text>
<text x="50.1" y="397.00" font-size="11.3" text-anchor="end">1E-06</text>
<text x="76.40" y="429.00" font-size="11.3" text-anchor="middle">0</text>
<text x="177.60" y="429.00" font-size="11.3" text-anchor="middle">0.1</text>
<text x="278.80" y="429.00" font-size="11.3" text-anchor="middle">0.2</text>
<text x="380.00" y="429.00" font-size="11.3" text-anchor="middle">0.3</text>
<text x="481.20" y="429.00" font-size="11.3" text-anchor="middle">0.4</text>
<text x="582.40" y="429.00" font-size="11.3" text-anchor="middle">0.5</text>
<text x="329.30" y="442.80" font-size="11.5" text-anchor="middle">Frequency</text>
<text transform="translate(9.2,308.75) rotate(-90)" font-size="11.5" text-anchor="middle">Power</text>
<text x="82.3" y="384.70" font-size="14">b: Ti</text>
<text x="146.30" y="298.70" font-size="9.5" text-anchor="middle" style="stroke-width:0.18px">14.5</text>
<text x="167.90" y="305.30" font-size="9.5" text-anchor="middle" style="stroke-width:0.18px">11.2</text>
<text x="199.00" y="313.10" font-size="9.5" text-anchor="middle" style="stroke-width:0.18px">8.9</text>
<text x="228.30" y="317.40" font-size="9.5" text-anchor="middle" style="stroke-width:0.18px">6.6</text>
<text x="274.30" y="325.00" font-size="9.5" text-anchor="middle" style="stroke-width:0.18px">5.1</text>
<text x="303.60" y="328.80" font-size="9.5" text-anchor="middle" style="stroke-width:0.18px">4.4</text>
<text x="328.10" y="327.00" font-size="9.5" text-anchor="middle" style="stroke-width:0.18px">4</text>
<rect x="76.80" y="444.60" width="5.40" height="168.80" fill="#f2f29c"/>
<rect x="249.80" y="444.60" width="5.50" height="168.80" fill="#f2f29c"/>
<rect x="277.70" y="444.60" width="5.70" height="168.80" fill="#f2f29c"/>
<rect x="320.10" y="444.60" width="5.90" height="168.80" fill="#f2f29c"/>
<rect x="381.50" y="444.60" width="6.10" height="168.80" fill="#f2f29c"/>
<polyline points="76.4,470.60 77.4,470.65 78.4,470.80 79.4,471.05 80.4,471.39 81.4,471.82 82.4,472.33 83.4,472.90 84.4,473.54 85.4,474.23 86.4,474.97 87.4,475.74 88.4,476.54 89.4,477.36 90.4,478.20 91.4,479.05 92.4,479.91 93.4,480.78 94.4,481.64 95.4,482.50 96.4,483.35 97.4,484.20 98.4,485.03 99.4,485.86 100.4,486.68 101.4,487.49 102.4,488.28 103.4,489.06 104.4,489.83 105.4,490.59 106.4,491.34 107.4,492.07 108.4,492.79 109.4,493.49 110.4,494.18 111.4,494.87 112.4,495.53 113.4,496.19 114.4,496.84 115.4,497.47 116.4,498.09 117.4,498.71 118.4,499.31 119.4,499.90 120.4,500.48 121.4,501.05 122.4,501.61 123.4,502.16 124.4,502.71 125.4,503.24 126.4,503.77 127.4,504.28 128.4,504.79 129.4,505.29 130.4,505.79 131.4,506.27 132.4,506.75 133.4,507.22 134.4,507.68 135.4,508.14 136.4,508.59 137.4,509.04 138.4,509.47 139.4,509.90 140.4,510.33 141.4,510.75 142.4,511.16 143.4,511.57 144.4,511.97 145.4,512.37 146.4,512.76 147.4,513.15 148.4,513.53 149.4,513.90 150.4,514.28 151.4,514.64 152.4,515.01 153.4,515.36 154.4,515.72 155.4,516.07 156.4,516.41 157.4,516.75 158.4,517.09 159.4,517.42 160.4,517.75 161.4,518.08 162.4,518.40 163.4,518.72 164.4,519.03 165.4,519.34 166.4,519.65 167.4,519.96 168.4,520.26 169.4,520.56 170.4,520.85 171.4,521.14 172.4,521.43 173.4,521.72 174.4,522.00 175.4,522.28 176.4,522.56 177.4,522.83 178.4,523.10 179.4,523.37 180.4,523.64 181.4,523.90 182.4,524.16 183.4,524.42 184.4,524.68 185.4,524.93 186.4,525.18 187.4,525.43 188.4,525.68 189.4,525.92 190.4,526.16 191.4,526.40 192.4,526.64 193.4,526.87 194.4,527.11 195.4,527.34 196.4,527.57 197.4,527.79 198.4,528.02 199.4,528.24 200.4,528.46 201.4,528.68 202.4,528.90 203.4,529.12 204.4,529.33 205.4,529.54 206.4,529.75 207.4,529.96 208.4,530.17 209.4,530.37 210.4,530.58 211.4,530.78 212.4,530.98 213.4,531.18 214.4,531.37 215.4,531.57 216.4,531.76 217.4,531.96 218.4,532.15 219.4,532.34 220.4,532.52 221.4,532.71 222.4,532.90 223.4,533.08 224.4,533.26 225.4,533.44 226.4,533.62 227.4,533.80 228.4,533.98 229.4,534.15 230.4,534.33 231.4,534.50 232.4,534.67 233.4,534.84 234.4,535.01 235.4,535.18 236.4,535.34 237.4,535.51 238.4,535.67 239.4,535.84 240.4,536.00 241.4,536.16 242.4,536.32 243.4,536.48 244.4,536.63 245.4,536.79 246.4,536.94 247.4,537.10 248.4,537.25 249.4,537.40 250.4,537.55 251.4,537.70 252.4,537.85 253.4,538.00 254.4,538.15 255.4,538.29 256.4,538.44 257.4,538.58 258.4,538.72 259.4,538.86 260.4,539.01 261.4,539.15 262.4,539.28 263.4,539.42 264.4,539.56 265.4,539.70 266.4,539.83 267.4,539.96 268.4,540.10 269.4,540.23 270.4,540.36 271.4,540.49 272.4,540.62 273.4,540.75 274.4,540.88 275.4,541.01 276.4,541.14 277.4,541.26 278.4,541.39 279.4,541.51 280.4,541.63 281.4,541.76 282.4,541.88 283.4,542.00 284.4,542.12 285.4,542.24 286.4,542.36 287.4,542.48 288.4,542.59 289.4,542.71 290.4,542.83 291.4,542.94 292.4,543.05 293.4,543.17 294.4,543.28 295.4,543.39 296.4,543.50 297.4,543.62 298.4,543.73 299.4,543.83 300.4,543.94 301.4,544.05 302.4,544.16 303.4,544.27 304.4,544.37 305.4,544.48 306.4,544.58 307.4,544.69 308.4,544.79 309.4,544.89 310.4,544.99 311.4,545.10 312.4,545.20 313.4,545.30 314.4,545.40 315.4,545.50 316.4,545.59 317.4,545.69 318.4,545.79 319.4,545.89 320.4,545.98 321.4,546.08 322.4,546.17 323.4,546.27 324.4,546.36 325.4,546.45 326.4,546.55 327.4,546.64 328.4,546.73 329.4,546.82 330.4,546.91 331.4,547.00 332.4,547.09 333.4,547.18 334.4,547.26 335.4,547.35 336.4,547.44 337.4,547.53 338.4,547.61 339.4,547.70 340.4,547.78 341.4,547.87 342.4,547.95 343.4,548.03 344.4,548.12 345.4,548.20 346.4,548.28 347.4,548.36 348.4,548.44 349.4,548.52 350.4,548.60 351.4,548.68 352.4,548.76 353.4,548.84 354.4,548.92 355.4,548.99 356.4,549.07 357.4,549.15 358.4,549.22 359.4,549.30 360.4,549.37 361.4,549.45 362.4,549.52 363.4,549.59 364.4,549.67 365.4,549.74 366.4,549.81 367.4,549.88 368.4,549.95 369.4,550.03 370.4,550.10 371.4,550.17 372.4,550.24 373.4,550.30 374.4,550.37 375.4,550.44 376.4,550.51 377.4,550.58 378.4,550.64 379.4,550.71 380.4,550.77 381.4,550.84 382.4,550.90 383.4,550.97 384.4,551.03 385.4,551.10 386.4,551.16 387.4,551.22 388.4,551.29 389.4,551.35 390.4,551.41 391.4,551.47 392.4,551.53 393.4,551.59 394.4,551.65 395.4,551.71 396.4,551.77 397.4,551.83 398.4,551.89 399.4,551.95 400.4,552.01 401.4,552.06 402.4,552.12 403.4,552.18 404.4,552.23 405.4,552.29 406.4,552.34 407.4,552.40 408.4,552.45 409.4,552.51 410.4,552.56 411.4,552.61 412.4,552.67 413.4,552.72 414.4,552.77 415.4,552.82 416.4,552.88 417.4,552.93 418.4,552.98 419.4,553.03 420.4,553.08 421.4,553.13 422.4,553.18 423.4,553.23 424.4,553.27 425.4,553.32 426.4,553.37 427.4,553.42 428.4,553.47 429.4,553.51 430.4,553.56 431.4,553.60 432.4,553.65 433.4,553.70 434.4,553.74 435.4,553.79 436.4,553.83 437.4,553.87 438.4,553.92 439.4,553.96 440.4,554.00 441.4,554.05 442.4,554.09 443.4,554.13 444.4,554.17 445.4,554.21 446.4,554.25 447.4,554.30 448.4,554.34 449.4,554.38 450.4,554.42 451.4,554.45 452.4,554.49 453.4,554.53 454.4,554.57 455.4,554.61 456.4,554.65 457.4,554.68 458.4,554.72 459.4,554.76 460.4,554.79 461.4,554.83 462.4,554.86 463.4,554.90 464.4,554.93 465.4,554.97 466.4,555.00 467.4,555.04 468.4,555.07 469.4,555.10 470.4,555.14 471.4,555.17 472.4,555.20 473.4,555.23 474.4,555.27 475.4,555.30 476.4,555.33 477.4,555.36 478.4,555.39 479.4,555.42 480.4,555.45 481.4,555.48 482.4,555.51 483.4,555.54 484.4,555.57 485.4,555.60 486.4,555.62 487.4,555.65 488.4,555.68 489.4,555.71 490.4,555.73 491.4,555.76 492.4,555.79 493.4,555.81 494.4,555.84 495.4,555.86 496.4,555.89 497.4,555.91 498.4,555.94 499.4,555.96 500.4,555.98 501.4,556.01 502.4,556.03 503.4,556.05 504.4,556.08 505.4,556.10 506.4,556.12 507.4,556.14 508.4,556.16 509.4,556.18 510.4,556.20 511.4,556.23 512.4,556.25 513.4,556.27 514.4,556.29 515.4,556.30 516.4,556.32 517.4,556.34 518.4,556.36 519.4,556.38 520.4,556.40 521.4,556.41 522.4,556.43 523.4,556.45 524.4,556.46 525.4,556.48 526.4,556.50 527.4,556.51 528.4,556.53 529.4,556.54 530.4,556.56 531.4,556.57 532.4,556.59 533.4,556.60 534.4,556.62 535.4,556.63 536.4,556.64 537.4,556.66 538.4,556.67 539.4,556.68 540.4,556.69 541.4,556.70 542.4,556.72 543.4,556.73 544.4,556.74 545.4,556.75 546.4,556.76 547.4,556.77 548.4,556.78 549.4,556.79 550.4,556.80 551.4,556.81 552.4,556.81 553.4,556.82 554.4,556.83 555.4,556.84 556.4,556.85 557.4,556.85 558.4,556.86 559.4,556.87 560.4,556.87 561.4,556.88 562.4,556.89 563.4,556.89 564.4,556.90 565.4,556.90 566.4,556.91 567.4,556.91 568.4,556.91 569.4,556.92 570.4,556.92 571.4,556.92 572.4,556.93 573.4,556.93 574.4,556.93 575.4,556.93 576.4,556.94 577.4,556.94 578.4,556.94 579.4,556.94 580.4,556.94 581.4,556.94 582.4,556.94" fill="none" stroke="#2c7249" stroke-width="1.25"/>
<polyline points="76.4,475.33 77.4,475.38 78.4,475.53 79.4,475.78 80.4,476.12 81.4,476.55 82.4,477.05 83.4,477.63 84.4,478.27 85.4,478.96 86.4,479.69 87.4,480.46 88.4,481.26 89.4,482.09 90.4,482.93 91.4,483.78 92.4,484.64 93.4,485.50 94.4,486.36 95.4,487.22 96.4,488.08 97.4,488.92 98.4,489.76 99.4,490.59 100.4,491.41 101.4,492.21 102.4,493.01 103.4,493.79 104.4,494.56 105.4,495.32 106.4,496.06 107.4,496.79 108.4,497.51 109.4,498.22 110.4,498.91 111.4,499.59 112.4,500.26 113.4,500.92 114.4,501.56 115.4,502.20 116.4,502.82 117.4,503.43 118.4,504.03 119.4,504.63 120.4,505.21 121.4,505.78 122.4,506.34 123.4,506.89 124.4,507.43 125.4,507.97 126.4,508.49 127.4,509.01 128.4,509.52 129.4,510.02 130.4,510.51 131.4,511.00 132.4,511.48 133.4,511.95 134.4,512.41 135.4,512.87 136.4,513.32 137.4,513.76 138.4,514.20 139.4,514.63 140.4,515.05 141.4,515.47 142.4,515.89 143.4,516.30 144.4,516.70 145.4,517.09 146.4,517.49 147.4,517.87 148.4,518.25 149.4,518.63 150.4,519.00 151.4,519.37 152.4,519.73 153.4,520.09 154.4,520.44 155.4,520.79 156.4,521.14 157.4,521.48 158.4,521.82 159.4,522.15 160.4,522.48 161.4,522.81 162.4,523.13 163.4,523.45 164.4,523.76 165.4,524.07 166.4,524.38 167.4,524.68 168.4,524.98 169.4,525.28 170.4,525.58 171.4,525.87 172.4,526.16 173.4,526.44 174.4,526.73 175.4,527.01 176.4,527.28 177.4,527.56 178.4,527.83 179.4,528.10 180.4,528.36 181.4,528.63 182.4,528.89 183.4,529.15 184.4,529.40 185.4,529.66 186.4,529.91 187.4,530.16 188.4,530.40 189.4,530.65 190.4,530.89 191.4,531.13 192.4,531.37 193.4,531.60 194.4,531.83 195.4,532.06 196.4,532.29 197.4,532.52 198.4,532.75 199.4,532.97 200.4,533.19 201.4,533.41 202.4,533.63 203.4,533.84 204.4,534.06 205.4,534.27 206.4,534.48 207.4,534.69 208.4,534.90 209.4,535.10 210.4,535.30 211.4,535.51 212.4,535.71 213.4,535.90 214.4,536.10 215.4,536.30 216.4,536.49 217.4,536.68 218.4,536.87 219.4,537.06 220.4,537.25 221.4,537.44 222.4,537.62 223.4,537.81 224.4,537.99 225.4,538.17 226.4,538.35 227.4,538.53 228.4,538.70 229.4,538.88 230.4,539.05 231.4,539.22 232.4,539.40 233.4,539.57 234.4,539.74 235.4,539.90 236.4,540.07 237.4,540.23 238.4,540.40 239.4,540.56 240.4,540.72 241.4,540.88 242.4,541.04 243.4,541.20 244.4,541.36 245.4,541.52 246.4,541.67 247.4,541.82 248.4,541.98 249.4,542.13 250.4,542.28 251.4,542.43 252.4,542.58 253.4,542.73 254.4,542.87 255.4,543.02 256.4,543.16 257.4,543.31 258.4,543.45 259.4,543.59 260.4,543.73 261.4,543.87 262.4,544.01 263.4,544.15 264.4,544.29 265.4,544.42 266.4,544.56 267.4,544.69 268.4,544.82 269.4,544.96 270.4,545.09 271.4,545.22 272.4,545.35 273.4,545.48 274.4,545.61 275.4,545.73 276.4,545.86 277.4,545.99 278.4,546.11 279.4,546.24 280.4,546.36 281.4,546.48 282.4,546.60 283.4,546.73 284.4,546.85 285.4,546.97 286.4,547.08 287.4,547.20 288.4,547.32 289.4,547.44 290.4,547.55 291.4,547.67 292.4,547.78 293.4,547.89 294.4,548.01 295.4,548.12 296.4,548.23 297.4,548.34 298.4,548.45 299.4,548.56 300.4,548.67 301.4,548.78 302.4,548.89 303.4,548.99 304.4,549.10 305.4,549.20 306.4,549.31 307.4,549.41 308.4,549.52 309.4,549.62 310.4,549.72 311.4,549.82 312.4,549.92 313.4,550.02 314.4,550.12 315.4,550.22 316.4,550.32 317.4,550.42 318.4,550.52 319.4,550.61 320.4,550.71 321.4,550.80 322.4,550.90 323.4,550.99 324.4,551.09 325.4,551.18 326.4,551.27 327.4,551.36 328.4,551.45 329.4,551.55 330.4,551.64 331.4,551.73 332.4,551.81 333.4,551.90 334.4,551.99 335.4,552.08 336.4,552.17 337.4,552.25 338.4,552.34 339.4,552.42 340.4,552.51 341.4,552.59 342.4,552.68 343.4,552.76 344.4,552.84 345.4,552.92 346.4,553.01 347.4,553.09 348.4,553.17 349.4,553.25 350.4,553.33 351.4,553.41 352.4,553.49 353.4,553.56 354.4,553.64 355.4,553.72 356.4,553.80 357.4,553.87 358.4,553.95 359.4,554.02 360.4,554.10 361.4,554.17 362.4,554.25 363.4,554.32 364.4,554.39 365.4,554.47 366.4,554.54 367.4,554.61 368.4,554.68 369.4,554.75 370.4,554.82 371.4,554.89 372.4,554.96 373.4,555.03 374.4,555.10 375.4,555.17 376.4,555.23 377.4,555.30 378.4,555.37 379.4,555.43 380.4,555.50 381.4,555.57 382.4,555.63 383.4,555.70 384.4,555.76 385.4,555.82 386.4,555.89 387.4,555.95 388.4,556.01 389.4,556.07 390.4,556.14 391.4,556.20 392.4,556.26 393.4,556.32 394.4,556.38 395.4,556.44 396.4,556.50 397.4,556.56 398.4,556.62 399.4,556.67 400.4,556.73 401.4,556.79 402.4,556.85 403.4,556.90 404.4,556.96 405.4,557.01 406.4,557.07 407.4,557.12 408.4,557.18 409.4,557.23 410.4,557.29 411.4,557.34 412.4,557.39 413.4,557.45 414.4,557.50 415.4,557.55 416.4,557.60 417.4,557.65 418.4,557.70 419.4,557.75 420.4,557.80 421.4,557.85 422.4,557.90 423.4,557.95 424.4,558.00 425.4,558.05 426.4,558.10 427.4,558.14 428.4,558.19 429.4,558.24 430.4,558.29 431.4,558.33 432.4,558.38 433.4,558.42 434.4,558.47 435.4,558.51 436.4,558.56 437.4,558.60 438.4,558.64 439.4,558.69 440.4,558.73 441.4,558.77 442.4,558.82 443.4,558.86 444.4,558.90 445.4,558.94 446.4,558.98 447.4,559.02 448.4,559.06 449.4,559.10 450.4,559.14 451.4,559.18 452.4,559.22 453.4,559.26 454.4,559.30 455.4,559.33 456.4,559.37 457.4,559.41 458.4,559.45 459.4,559.48 460.4,559.52 461.4,559.55 462.4,559.59 463.4,559.63 464.4,559.66 465.4,559.70 466.4,559.73 467.4,559.76 468.4,559.80 469.4,559.83 470.4,559.86 471.4,559.90 472.4,559.93 473.4,559.96 474.4,559.99 475.4,560.02 476.4,560.06 477.4,560.09 478.4,560.12 479.4,560.15 480.4,560.18 481.4,560.21 482.4,560.24 483.4,560.26 484.4,560.29 485.4,560.32 486.4,560.35 487.4,560.38 488.4,560.40 489.4,560.43 490.4,560.46 491.4,560.49 492.4,560.51 493.4,560.54 494.4,560.56 495.4,560.59 496.4,560.61 497.4,560.64 498.4,560.66 499.4,560.69 500.4,560.71 501.4,560.73 502.4,560.76 503.4,560.78 504.4,560.80 505.4,560.82 506.4,560.85 507.4,560.87 508.4,560.89 509.4,560.91 510.4,560.93 511.4,560.95 512.4,560.97 513.4,560.99 514.4,561.01 515.4,561.03 516.4,561.05 517.4,561.07 518.4,561.09 519.4,561.11 520.4,561.12 521.4,561.14 522.4,561.16 523.4,561.17 524.4,561.19 525.4,561.21 526.4,561.22 527.4,561.24 528.4,561.26 529.4,561.27 530.4,561.29 531.4,561.30 532.4,561.31 533.4,561.33 534.4,561.34 535.4,561.36 536.4,561.37 537.4,561.38 538.4,561.39 539.4,561.41 540.4,561.42 541.4,561.43 542.4,561.44 543.4,561.45 544.4,561.46 545.4,561.47 546.4,561.48 547.4,561.49 548.4,561.50 549.4,561.51 550.4,561.52 551.4,561.53 552.4,561.54 553.4,561.55 554.4,561.56 555.4,561.57 556.4,561.57 557.4,561.58 558.4,561.59 559.4,561.59 560.4,561.60 561.4,561.61 562.4,561.61 563.4,561.62 564.4,561.62 565.4,561.63 566.4,561.63 567.4,561.64 568.4,561.64 569.4,561.64 570.4,561.65 571.4,561.65 572.4,561.65 573.4,561.66 574.4,561.66 575.4,561.66 576.4,561.66 577.4,561.66 578.4,561.67 579.4,561.67 580.4,561.67 581.4,561.67 582.4,561.67" fill="none" stroke="#2c7249" stroke-width="1.25"/>
<polyline points="76.4,477.86 77.4,477.91 78.4,478.06 79.4,478.31 80.4,478.65 81.4,479.08 82.4,479.58 83.4,480.16 84.4,480.80 85.4,481.49 86.4,482.22 87.4,483.00 88.4,483.80 89.4,484.62 90.4,485.46 91.4,486.31 92.4,487.17 93.4,488.03 94.4,488.90 95.4,489.75 96.4,490.61 97.4,491.45 98.4,492.29 99.4,493.12 100.4,493.94 101.4,494.75 102.4,495.54 103.4,496.32 104.4,497.09 105.4,497.85 106.4,498.59 107.4,499.32 108.4,500.04 109.4,500.75 110.4,501.44 111.4,502.12 112.4,502.79 113.4,503.45 114.4,504.10 115.4,504.73 116.4,505.35 117.4,505.96 118.4,506.57 119.4,507.16 120.4,507.74 121.4,508.31 122.4,508.87 123.4,509.42 124.4,509.97 125.4,510.50 126.4,511.03 127.4,511.54 128.4,512.05 129.4,512.55 130.4,513.05 131.4,513.53 132.4,514.01 133.4,514.48 134.4,514.94 135.4,515.40 136.4,515.85 137.4,516.29 138.4,516.73 139.4,517.16 140.4,517.59 141.4,518.01 142.4,518.42 143.4,518.83 144.4,519.23 145.4,519.63 146.4,520.02 147.4,520.40 148.4,520.79 149.4,521.16 150.4,521.53 151.4,521.90 152.4,522.26 153.4,522.62 154.4,522.98 155.4,523.33 156.4,523.67 157.4,524.01 158.4,524.35 159.4,524.68 160.4,525.01 161.4,525.34 162.4,525.66 163.4,525.98 164.4,526.29 165.4,526.60 166.4,526.91 167.4,527.22 168.4,527.52 169.4,527.81 170.4,528.11 171.4,528.40 172.4,528.69 173.4,528.98 174.4,529.26 175.4,529.54 176.4,529.81 177.4,530.09 178.4,530.36 179.4,530.63 180.4,530.89 181.4,531.16 182.4,531.42 183.4,531.68 184.4,531.93 185.4,532.19 186.4,532.44 187.4,532.69 188.4,532.93 189.4,533.18 190.4,533.42 191.4,533.66 192.4,533.90 193.4,534.13 194.4,534.37 195.4,534.60 196.4,534.83 197.4,535.05 198.4,535.28 199.4,535.50 200.4,535.72 201.4,535.94 202.4,536.16 203.4,536.38 204.4,536.59 205.4,536.80 206.4,537.01 207.4,537.22 208.4,537.43 209.4,537.63 210.4,537.84 211.4,538.04 212.4,538.24 213.4,538.44 214.4,538.63 215.4,538.83 216.4,539.02 217.4,539.21 218.4,539.41 219.4,539.59 220.4,539.78 221.4,539.97 222.4,540.15 223.4,540.34 224.4,540.52 225.4,540.70 226.4,540.88 227.4,541.06 228.4,541.23 229.4,541.41 230.4,541.58 231.4,541.76 232.4,541.93 233.4,542.10 234.4,542.27 235.4,542.44 236.4,542.60 237.4,542.77 238.4,542.93 239.4,543.09 240.4,543.26 241.4,543.42 242.4,543.58 243.4,543.73 244.4,543.89 245.4,544.05 246.4,544.20 247.4,544.36 248.4,544.51 249.4,544.66 250.4,544.81 251.4,544.96 252.4,545.11 253.4,545.26 254.4,545.40 255.4,545.55 256.4,545.69 257.4,545.84 258.4,545.98 259.4,546.12 260.4,546.26 261.4,546.40 262.4,546.54 263.4,546.68 264.4,546.82 265.4,546.95 266.4,547.09 267.4,547.22 268.4,547.36 269.4,547.49 270.4,547.62 271.4,547.75 272.4,547.88 273.4,548.01 274.4,548.14 275.4,548.27 276.4,548.39 277.4,548.52 278.4,548.64 279.4,548.77 280.4,548.89 281.4,549.01 282.4,549.14 283.4,549.26 284.4,549.38 285.4,549.50 286.4,549.62 287.4,549.73 288.4,549.85 289.4,549.97 290.4,550.08 291.4,550.20 292.4,550.31 293.4,550.43 294.4,550.54 295.4,550.65 296.4,550.76 297.4,550.87 298.4,550.98 299.4,551.09 300.4,551.20 301.4,551.31 302.4,551.42 303.4,551.52 304.4,551.63 305.4,551.74 306.4,551.84 307.4,551.94 308.4,552.05 309.4,552.15 310.4,552.25 311.4,552.35 312.4,552.45 313.4,552.56 314.4,552.65 315.4,552.75 316.4,552.85 317.4,552.95 318.4,553.05 319.4,553.14 320.4,553.24 321.4,553.34 322.4,553.43 323.4,553.52 324.4,553.62 325.4,553.71 326.4,553.80 327.4,553.90 328.4,553.99 329.4,554.08 330.4,554.17 331.4,554.26 332.4,554.35 333.4,554.44 334.4,554.52 335.4,554.61 336.4,554.70 337.4,554.78 338.4,554.87 339.4,554.96 340.4,555.04 341.4,555.12 342.4,555.21 343.4,555.29 344.4,555.37 345.4,555.46 346.4,555.54 347.4,555.62 348.4,555.70 349.4,555.78 350.4,555.86 351.4,555.94 352.4,556.02 353.4,556.10 354.4,556.17 355.4,556.25 356.4,556.33 357.4,556.40 358.4,556.48 359.4,556.56 360.4,556.63 361.4,556.71 362.4,556.78 363.4,556.85 364.4,556.93 365.4,557.00 366.4,557.07 367.4,557.14 368.4,557.21 369.4,557.28 370.4,557.35 371.4,557.42 372.4,557.49 373.4,557.56 374.4,557.63 375.4,557.70 376.4,557.77 377.4,557.83 378.4,557.90 379.4,557.97 380.4,558.03 381.4,558.10 382.4,558.16 383.4,558.23 384.4,558.29 385.4,558.36 386.4,558.42 387.4,558.48 388.4,558.54 389.4,558.61 390.4,558.67 391.4,558.73 392.4,558.79 393.4,558.85 394.4,558.91 395.4,558.97 396.4,559.03 397.4,559.09 398.4,559.15 399.4,559.21 400.4,559.26 401.4,559.32 402.4,559.38 403.4,559.43 404.4,559.49 405.4,559.55 406.4,559.60 407.4,559.66 408.4,559.71 409.4,559.77 410.4,559.82 411.4,559.87 412.4,559.93 413.4,559.98 414.4,560.03 415.4,560.08 416.4,560.13 417.4,560.18 418.4,560.24 419.4,560.29 420.4,560.34 421.4,560.39 422.4,560.44 423.4,560.48 424.4,560.53 425.4,560.58 426.4,560.63 427.4,560.68 428.4,560.72 429.4,560.77 430.4,560.82 431.4,560.86 432.4,560.91 433.4,560.95 434.4,561.00 435.4,561.04 436.4,561.09 437.4,561.13 438.4,561.18 439.4,561.22 440.4,561.26 441.4,561.31 442.4,561.35 443.4,561.39 444.4,561.43 445.4,561.47 446.4,561.51 447.4,561.55 448.4,561.59 449.4,561.63 450.4,561.67 451.4,561.71 452.4,561.75 453.4,561.79 454.4,561.83 455.4,561.87 456.4,561.90 457.4,561.94 458.4,561.98 459.4,562.01 460.4,562.05 461.4,562.09 462.4,562.12 463.4,562.16 464.4,562.19 465.4,562.23 466.4,562.26 467.4,562.30 468.4,562.33 469.4,562.36 470.4,562.40 471.4,562.43 472.4,562.46 473.4,562.49 474.4,562.52 475.4,562.56 476.4,562.59 477.4,562.62 478.4,562.65 479.4,562.68 480.4,562.71 481.4,562.74 482.4,562.77 483.4,562.80 484.4,562.83 485.4,562.85 486.4,562.88 487.4,562.91 488.4,562.94 489.4,562.96 490.4,562.99 491.4,563.02 492.4,563.04 493.4,563.07 494.4,563.09 495.4,563.12 496.4,563.15 497.4,563.17 498.4,563.19 499.4,563.22 500.4,563.24 501.4,563.27 502.4,563.29 503.4,563.31 504.4,563.33 505.4,563.36 506.4,563.38 507.4,563.40 508.4,563.42 509.4,563.44 510.4,563.46 511.4,563.48 512.4,563.50 513.4,563.52 514.4,563.54 515.4,563.56 516.4,563.58 517.4,563.60 518.4,563.62 519.4,563.64 520.4,563.65 521.4,563.67 522.4,563.69 523.4,563.71 524.4,563.72 525.4,563.74 526.4,563.76 527.4,563.77 528.4,563.79 529.4,563.80 530.4,563.82 531.4,563.83 532.4,563.85 533.4,563.86 534.4,563.87 535.4,563.89 536.4,563.90 537.4,563.91 538.4,563.93 539.4,563.94 540.4,563.95 541.4,563.96 542.4,563.97 543.4,563.99 544.4,564.00 545.4,564.01 546.4,564.02 547.4,564.03 548.4,564.04 549.4,564.05 550.4,564.06 551.4,564.06 552.4,564.07 553.4,564.08 554.4,564.09 555.4,564.10 556.4,564.10 557.4,564.11 558.4,564.12 559.4,564.13 560.4,564.13 561.4,564.14 562.4,564.14 563.4,564.15 564.4,564.15 565.4,564.16 566.4,564.16 567.4,564.17 568.4,564.17 569.4,564.18 570.4,564.18 571.4,564.18 572.4,564.19 573.4,564.19 574.4,564.19 575.4,564.19 576.4,564.19 577.4,564.20 578.4,564.20 579.4,564.20 580.4,564.20 581.4,564.20 582.4,564.20" fill="none" stroke="#2c7249" stroke-width="1.25"/>
<polyline points="76.6,445.2 76.8,452.0 77.1,459.0 77.4,465.4 79.0,468.0 77.8,471.0 79.6,473.0 78.6,475.0 80.3,476.0 81.0,490.8 81.8,493.6 82.6,500.3 83.4,494.9 84.2,497.6 85.1,501.7 85.9,508.5 86.7,518.0 87.5,538.3 88.3,546.4 89.1,520.7 89.9,500.3 90.7,512.5 91.6,526.1 92.4,518.0 93.2,509.8 94.0,503.1 94.8,513.9 95.6,524.7 96.4,531.5 97.3,515.3 98.1,508.5 98.9,509.8 99.7,507.1 100.4,515.3 101.1,534.2 101.9,520.7 102.7,504.4 103.5,509.8 104.3,516.6 105.1,520.7 105.9,526.1 106.7,534.2 107.6,531.5 108.4,516.6 109.2,512.5 110.0,513.9 110.8,512.5 111.6,511.2 112.4,515.3 113.3,516.6 114.1,518.0 114.9,520.7 115.7,524.7 116.5,527.5 117.3,531.5 118.1,528.8 118.9,524.7 119.8,519.3 120.6,520.7 121.4,543.7 122.2,553.2 123.0,539.7 123.8,527.5 124.6,524.7 125.5,528.8 126.3,526.1 127.1,531.5 127.9,536.9 128.7,539.7 129.5,541.0 130.3,550.5 131.2,534.2 132.0,531.5 132.8,536.9 133.6,534.2 134.4,546.4 135.2,538.3 136.0,524.7 136.8,519.3 137.7,524.7 138.5,531.5 139.3,527.5 140.0,527.8 141.0,528.8 142.0,545.4 142.9,529.8 143.7,521.0 144.4,531.7 145.4,539.6 146.4,547.4 147.3,571.8 148.0,549.3 148.8,528.8 149.4,523.9 150.3,529.8 151.2,539.6 152.2,549.3 153.2,572.8 154.2,541.5 155.2,537.6 156.1,529.8 157.1,524.9 158.1,529.8 159.1,539.6 159.6,553.2 160.3,536.6 161.0,545.4 162.0,550.3 162.7,573.8 163.5,552.3 164.2,559.1 164.9,548.3 165.6,568.9 166.4,547.4 167.4,544.4 168.3,539.1 169.1,545.4 169.8,542.5 170.8,541.0 171.8,543.5 172.7,549.3 173.4,559.1 174.2,584.5 175.0,564.0 175.7,532.7 176.4,528.3 177.1,539.6 178.1,534.7 179.1,549.3 179.6,567.9 179.7,550.8 180.6,542.4 181.4,547.5 182.3,571.2 183.1,555.9 184.0,544.1 184.8,540.7 185.7,547.5 186.5,542.4 187.4,550.8 188.2,555.9 189.1,542.4 189.9,540.7 190.7,547.5 191.6,567.8 192.4,544.1 193.3,532.2 194.1,533.9 195.0,544.1 195.8,550.8 196.7,545.8 197.5,535.6 198.4,539.0 199.2,547.5 200.1,542.4 200.9,540.7 201.8,544.1 202.6,550.8 203.5,544.1 204.3,550.8 205.2,569.5 206.0,559.3 206.8,555.9 207.7,547.5 208.5,544.1 209.4,540.7 210.2,544.1 211.1,550.8 211.9,559.3 212.8,564.4 213.6,555.9 214.5,550.8 215.3,552.5 216.2,564.4 217.0,571.2 217.9,550.8 218.7,535.6 219.6,539.0 220.4,550.8 221.3,554.2 222.1,557.6 222.9,550.8 223.8,555.9 224.6,559.3 225.5,554.2 226.3,550.8 227.2,549.2 228.0,554.2 228.9,559.3 229.7,550.8 230.6,540.7 231.4,550.8 232.3,571.2 233.1,578.0 234.0,561.0 234.8,547.5 235.7,550.8 236.5,555.9 237.4,559.3 238.2,578.0 238.7,591.5 239.4,564.4 240.2,547.5 241.1,545.8 241.9,550.8 242.8,555.9 243.6,559.3 244.5,564.4 245.3,567.8 246.2,572.9 247.0,559.3 247.9,550.8 248.7,544.1 249.6,535.6 250.4,537.3 251.3,542.4 252.1,545.8 252.9,540.7 253.8,544.1 254.6,550.8 256.0,550.6 256.8,554.0 257.7,565.8 258.5,557.4 259.4,567.5 260.2,577.7 261.1,564.2 261.9,557.4 262.8,554.0 263.6,550.6 264.5,548.9 265.3,555.7 266.2,577.7 267.0,559.1 267.9,565.8 268.7,564.2 269.6,559.1 270.4,557.4 271.3,554.0 272.1,555.7 272.9,548.9 273.8,540.4 274.6,550.6 275.5,565.8 276.3,557.4 277.2,576.0 278.0,548.9 278.9,535.3 279.7,545.5 280.6,560.8 281.4,569.2 282.3,564.2 283.1,565.8 284.0,560.8 284.8,557.4 285.7,554.0 286.5,550.6 287.4,552.3 288.2,555.7 289.1,554.0 289.9,552.3 290.7,557.4 291.6,554.0 292.4,555.7 293.3,559.1 294.1,557.4 295.0,560.8 295.8,554.0 296.7,545.5 297.5,557.4 298.4,589.6 299.2,557.4 300.1,545.5 300.9,548.9 301.8,572.6 302.6,576.0 303.5,552.3 304.3,547.2 305.2,559.1 306.0,552.3 306.8,548.9 307.7,550.6 308.5,555.7 309.4,548.9 310.2,554.0 311.1,550.6 311.9,543.8 312.8,557.4 313.6,577.7 314.5,559.1 315.3,548.9 316.2,545.5 317.0,543.8 317.9,548.9 318.7,555.7 319.6,565.8 320.4,562.5 321.3,554.0 322.1,547.2 322.9,534.5 323.8,550.6 324.6,565.8 325.5,574.3 326.3,564.2 327.2,557.4 328.0,552.3 328.9,574.3 329.7,550.6 330.6,554.0 331.4,557.4 332.3,554.0 333.1,548.9 334.0,550.6 334.8,554.0 335.7,555.7 336.5,560.8 337.4,564.2 338.2,565.8 339.1,569.2 339.9,576.0 340.7,582.8 341.6,604.8 342.4,582.8 343.3,552.3 344.1,562.5 345.0,574.3 345.8,564.2 346.7,559.1 347.5,570.9 348.4,557.4 348.9,548.9 349.6,574.3 350.6,596.4 351.4,572.6 352.3,559.1 353.1,565.8 354.0,579.4 354.8,562.5 356.0,569.2 356.8,567.5 357.7,570.9 358.5,579.4 359.1,589.6 359.7,565.8 360.6,559.1 361.4,562.5 362.3,569.2 362.8,577.7 363.6,562.5 364.5,555.7 365.3,554.0 366.2,559.1 367.0,555.7 367.9,565.8 368.7,559.1 369.6,574.3 370.4,564.2 371.3,559.1 372.1,567.5 372.9,574.3 373.5,584.5 374.3,565.8 375.2,560.8 376.0,557.4 376.8,559.1 377.7,555.7 378.5,560.8 379.4,565.8 380.2,579.4 381.1,593.0 381.8,598.1 382.6,565.8 383.5,552.3 384.3,543.8 385.2,555.7 386.0,565.8 386.8,577.7 387.7,572.6 388.5,565.8 389.4,572.6 390.2,567.5 391.1,565.8 391.9,562.5 392.8,569.2 393.6,562.5 394.5,564.2 395.3,579.4 396.2,565.8 397.0,557.4 397.9,555.7 398.7,565.8 399.6,579.4 400.4,584.5 401.3,570.9 402.1,564.2 402.9,599.7 403.8,570.9 404.6,562.5 405.5,556.5 406.3,557.4 407.2,560.8 408.0,562.5 408.9,572.6 409.7,579.4 410.6,565.8 411.4,564.2 412.3,572.6 413.1,569.2 414.0,570.9 414.8,574.3 415.7,576.0 416.5,579.4 417.4,586.2 418.0,598.9 418.9,579.4 419.7,574.3 420.6,570.9 421.4,569.2 422.3,565.8 423.1,564.2 424.0,560.8 424.8,565.8 425.7,570.9 426.5,576.0 427.4,579.4 428.2,574.3 429.1,579.4 429.9,569.2 430.7,567.5 431.6,570.9 432.4,570.9 433.3,567.5 434.1,565.8 435.0,569.2 435.8,565.8 436.7,570.9 437.5,582.8 438.4,591.3 439.2,602.3 440.1,582.8 440.9,559.1 441.8,565.8 442.6,577.7 443.5,591.3 444.3,570.9 445.2,562.5 446.0,565.8 446.8,570.9 447.7,565.8 448.5,562.5 449.4,569.2 450.2,574.3 451.1,586.2 451.9,593.0 452.8,576.0 453.6,574.3 454.5,579.4 456.0,575.7 457.1,586.6 458.2,571.4 459.3,567.1 460.3,575.7 461.4,571.4 462.5,580.1 463.6,593.1 464.7,575.7 465.8,567.1 466.8,564.9 467.9,560.6 469.0,571.4 470.1,577.9 471.2,575.7 472.3,580.1 473.4,584.4 474.4,597.4 475.5,575.7 476.6,569.2 477.7,573.6 478.8,586.6 479.9,610.5 480.9,580.1 482.0,575.7 483.1,582.3 484.2,590.9 485.3,577.9 486.4,567.1 487.5,590.9 488.5,613.7 489.6,586.6 490.7,577.9 491.8,584.4 492.9,580.1 494.0,567.1 495.1,564.9 496.1,567.1 497.2,560.6 498.3,559.5 499.4,567.1 500.5,571.4 501.6,569.2 502.6,580.1 503.7,595.3 504.8,575.7 505.9,567.1 507.0,562.7 508.1,577.9 509.2,586.6 510.2,573.6 511.3,562.7 512.4,569.2 513.5,599.6 514.6,582.3 515.7,575.7 516.7,577.9 517.8,571.4 518.9,580.1 520.0,575.7 521.1,590.9 522.2,569.2 523.3,564.9 524.3,575.7 525.4,586.6 526.5,602.9 527.6,584.4 528.7,580.1 529.8,584.4 530.8,577.9 531.9,573.6 533.0,569.2 534.1,586.6 535.2,580.1 536.3,584.4 537.4,617.0 538.4,601.8 539.5,593.1 540.6,571.4 541.7,575.7 542.8,590.9 543.9,580.1 544.9,569.2 546.0,560.6 547.1,564.9 548.2,577.9 549.3,590.9 550.4,608.3 551.5,586.6 552.5,575.7 553.6,567.1 554.7,562.7 555.8,577.9 556.9,580.1 558.0,588.8 559.1,584.4 560.1,575.7 561.2,577.9 562.3,586.6 563.4,577.9 564.5,601.8 565.6,573.6 566.6,575.7 567.7,577.9 568.8,582.3 569.9,590.9 571.0,586.6 572.1,580.1 573.2,571.4 574.2,567.1 575.3,580.1 576.4,593.1 577.5,577.9 578.6,575.7 579.7,573.6 580.7,584.4 581.4,608.3" fill="none" stroke="#0c0ce4" stroke-width="1.6" stroke-linejoin="round"/>
<path d="M59.0,444.60H582.4V613.40H59.0M76.40,444.60V630.40" fill="none" stroke="#262626" stroke-width="1.2"/>
<path d="M59.0,613.40H76.4M67.4,603.24H76.4M67.4,597.29H76.4M67.4,593.07H76.4M67.4,589.80H76.4M67.4,587.13H76.4M67.4,584.87H76.4M67.4,582.91H76.4M67.4,581.18H76.4M59.0,579.64H76.4M67.4,569.48H76.4M67.4,563.53H76.4M67.4,559.31H76.4M67.4,556.04H76.4M67.4,553.37H76.4M67.4,551.11H76.4M67.4,549.15H76.4M67.4,547.42H76.4M59.0,545.88H76.4M67.4,535.72H76.4M67.4,529.77H76.4M67.4,525.55H76.4M67.4,522.28H76.4M67.4,519.61H76.4M67.4,517.35H76.4M67.4,515.39H76.4M67.4,513.66H76.4M59.0,512.12H76.4M67.4,501.96H76.4M67.4,496.01H76.4M67.4,491.79H76.4M67.4,488.52H76.4M67.4,485.85H76.4M67.4,483.59H76.4M67.4,481.63H76.4M67.4,479.90H76.4M59.0,478.36H76.4M67.4,468.20H76.4M67.4,462.25H76.4M67.4,458.03H76.4M67.4,454.76H76.4M67.4,452.09H76.4M67.4,449.83H76.4M67.4,447.87H76.4M67.4,446.14H76.4M59.0,444.60H76.4M76.40,613.40V630.40M127.00,613.40V622.40M177.60,613.40V630.40M228.20,613.40V622.40M278.80,613.40V630.40M329.40,613.40V622.40M380.00,613.40V630.40M430.60,613.40V622.40M481.20,613.40V630.40M531.80,613.40V622.40M582.40,613.40V630.40" fill="none" stroke="#262626" stroke-width="1.1"/>
<text x="50.1" y="448.60" font-size="11.3" text-anchor="end">0.01</text>
<text x="50.1" y="482.36" font-size="11.3" text-anchor="end">0.001</text>
<text x="50.1" y="516.12" font-size="11.3" text-anchor="end">0.0001</text>
<text x="50.1" y="549.88" font-size="11.3" text-anchor="end">1E-05</text>
<text x="50.1" y="583.64" font-size="11.3" text-anchor="end">1E-06</text>
<text x="50.1" y="617.40" font-size="11.3" text-anchor="end">1E-07</text>
<text x="76.40" y="649.40" font-size="11.3" text-anchor="middle">0</text>
<text x="177.60" y="649.40" font-size="11.3" text-anchor="middle">0.1</text>
<text x="278.80" y="649.40" font-size="11.3" text-anchor="middle">0.2</text>
<text x="380.00" y="649.40" font-size="11.3" text-anchor="middle">0.3</text>
<text x="481.20" y="649.40" font-size="11.3" text-anchor="middle">0.4</text>
<text x="582.40" y="649.40" font-size="11.3" text-anchor="middle">0.5</text>
<text x="327.60" y="662.50" font-size="11.5" text-anchor="middle">Frequency</text>
<text transform="translate(9.2,529.00) rotate(-90)" font-size="11.5" text-anchor="middle">Power</text>
<text x="82.3" y="602.70" font-size="14">c:Zr</text>
<text x="87.10" y="457.80" font-size="9.5" text-anchor="middle" style="stroke-width:0.18px">518</text>
<text x="251.00" y="532.50" font-size="9.5" text-anchor="middle" style="stroke-width:0.18px">5.8</text>
<text x="279.70" y="532.50" font-size="9.5" text-anchor="middle" style="stroke-width:0.18px">5</text>
<text x="322.20" y="531.50" font-size="9.5" text-anchor="middle" style="stroke-width:0.18px">4.1</text>
<text x="384.00" y="541.30" font-size="9.5" text-anchor="middle" style="stroke-width:0.18px">3.3</text>
</svg></body></html>
